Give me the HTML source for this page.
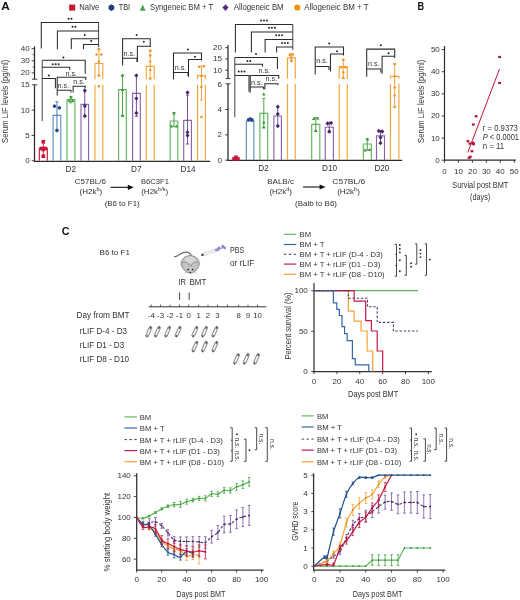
<!DOCTYPE html>
<html><head><meta charset="utf-8"><style>
html,body{margin:0;padding:0;background:#fff;}
svg{display:block;will-change:transform;}
text{font-family:"Liberation Sans",sans-serif;}
</style></head><body>
<svg width="520" height="600" viewBox="0 0 520 600">
<rect width="520" height="600" fill="#fff"/>
<text x="1.2" y="9.9" font-size="11" fill="#111" font-weight="bold" textLength="8.5" lengthAdjust="spacingAndGlyphs">A</text><text x="417.6" y="9.8" font-size="11" fill="#111" font-weight="bold" textLength="6.6" lengthAdjust="spacingAndGlyphs">B</text><text x="61.7" y="235" font-size="11" fill="#111" font-weight="bold" textLength="7.8" lengthAdjust="spacingAndGlyphs">C</text><rect x="69.2" y="4.6" width="6" height="6" fill="#c8163c" stroke="none" stroke-width="0"/><text x="79.2" y="10.4" font-size="8.3" fill="#333333" textLength="20.2" lengthAdjust="spacingAndGlyphs">Na&#239;ve</text><polygon points="114.26,9.25 111.4,10.9 108.54,9.25 108.54,5.95 111.4,4.3 114.26,5.95" fill="#1f3f7a" stroke="none" stroke-width="0"/><text x="118.7" y="10.4" font-size="8.3" fill="#333333" textLength="11.5" lengthAdjust="spacingAndGlyphs">TBI</text><polygon points="139.8,10.8 145.6,10.8 142.7,4.5" fill="#4ba14a" stroke="none" stroke-width="0"/><text x="150" y="10.4" font-size="8.3" fill="#333333" textLength="63.2" lengthAdjust="spacingAndGlyphs">Syngeneic BM + T</text><polygon points="225.5,4.3 228.6,7.6 225.5,10.9 222.4,7.6" fill="#5b2c83" stroke="none" stroke-width="0"/><text x="233.8" y="10.4" font-size="8.3" fill="#333333" textLength="49.8" lengthAdjust="spacingAndGlyphs">Allogeneic BM</text><circle cx="297.3" cy="7.5" r="3.1" fill="#f0930f" stroke="none" stroke-width="0"/><text x="304.3" y="10.4" font-size="8.3" fill="#333333" textLength="64.2" lengthAdjust="spacingAndGlyphs">Allogeneic BM + T</text><line x1="34.5" y1="46.3" x2="34.5" y2="79.2" stroke="#2b2b2b" stroke-width="1.25"/><line x1="34.5" y1="84.8" x2="34.5" y2="161.4" stroke="#2b2b2b" stroke-width="1.25"/><line x1="32" y1="79.2" x2="37.3" y2="79.2" stroke="#2b2b2b" stroke-width="0.9"/><line x1="32" y1="84.8" x2="37.3" y2="84.8" stroke="#2b2b2b" stroke-width="0.9"/><line x1="31.6" y1="48.7" x2="34.5" y2="48.7" stroke="#2b2b2b" stroke-width="0.9"/><line x1="31.6" y1="60.8" x2="34.5" y2="60.8" stroke="#2b2b2b" stroke-width="0.9"/><line x1="31.6" y1="72.9" x2="34.5" y2="72.9" stroke="#2b2b2b" stroke-width="0.9"/><line x1="32.6" y1="54.75" x2="34.5" y2="54.75" stroke="#2b2b2b" stroke-width="0.8"/><line x1="32.6" y1="66.85" x2="34.5" y2="66.85" stroke="#2b2b2b" stroke-width="0.8"/><line x1="31.6" y1="110.1" x2="34.5" y2="110.1" stroke="#2b2b2b" stroke-width="0.9"/><line x1="31.6" y1="135.45" x2="34.5" y2="135.45" stroke="#2b2b2b" stroke-width="0.9"/><line x1="31.6" y1="160.8" x2="34.5" y2="160.8" stroke="#2b2b2b" stroke-width="0.9"/><text x="29.6" y="51.2" font-size="8" fill="#333333" text-anchor="end">40</text><text x="29.6" y="63.3" font-size="8" fill="#333333" text-anchor="end">30</text><text x="29.6" y="75.4" font-size="8" fill="#333333" text-anchor="end">20</text><text x="29.6" y="87.25" font-size="8" fill="#333333" text-anchor="end">15</text><text x="29.6" y="112.6" font-size="8" fill="#333333" text-anchor="end">10</text><text x="29.6" y="137.95" font-size="8" fill="#333333" text-anchor="end">5</text><text x="29.6" y="163.3" font-size="8" fill="#333333" text-anchor="end">0</text><line x1="34" y1="161.3" x2="210.2" y2="161.3" stroke="#2b2b2b" stroke-width="1.3"/><text x="7.8" y="101.3" font-size="9.3" fill="#333333" text-anchor="middle" textLength="83.2" lengthAdjust="spacingAndGlyphs" transform="rotate(-90 7.8 101.3)">Serum LIF levels (pg/ml)</text><polyline points="39.3,160.8 39.3,148.2 47.3,148.2 47.3,160.8" fill="none" stroke="#c8163c" stroke-width="1.15" stroke-linejoin="miter"/><line x1="43.3" y1="141.8" x2="43.3" y2="156" stroke="#c8163c" stroke-width="0.9"/><line x1="41.7" y1="141.8" x2="44.9" y2="141.8" stroke="#c8163c" stroke-width="0.9"/><line x1="41.7" y1="156" x2="44.9" y2="156" stroke="#c8163c" stroke-width="0.9"/><rect x="41.5" y="140" width="3.6" height="3.6" fill="#c8163c" stroke="none" stroke-width="0"/><rect x="39.7" y="146.7" width="3.6" height="3.6" fill="#c8163c" stroke="none" stroke-width="0"/><rect x="43.4" y="146.7" width="3.6" height="3.6" fill="#c8163c" stroke="none" stroke-width="0"/><rect x="41.5" y="147.7" width="3.6" height="3.6" fill="#c8163c" stroke="none" stroke-width="0"/><rect x="41.5" y="154.4" width="3.6" height="3.6" fill="#c8163c" stroke="none" stroke-width="0"/><polyline points="53.1,160.8 53.1,115.3 60.8,115.3 60.8,160.8" fill="none" stroke="#5f8dc6" stroke-width="1.15" stroke-linejoin="miter"/><line x1="56.95" y1="101.8" x2="56.95" y2="129.8" stroke="#3d6aa6" stroke-width="0.9"/><line x1="55.35" y1="101.8" x2="58.55" y2="101.8" stroke="#3d6aa6" stroke-width="0.9"/><line x1="55.35" y1="129.8" x2="58.55" y2="129.8" stroke="#3d6aa6" stroke-width="0.9"/><polygon points="56.1,107.15 54.45,108.1 52.8,107.15 52.8,105.25 54.45,104.3 56.1,105.25" fill="#1f4a86" stroke="none" stroke-width="0"/><polygon points="61,108.75 59.35,109.7 57.7,108.75 57.7,106.85 59.35,105.9 61,106.85" fill="#1f4a86" stroke="none" stroke-width="0"/><polygon points="58.6,131.45 56.95,132.4 55.3,131.45 55.3,129.55 56.95,128.6 58.6,129.55" fill="#1f4a86" stroke="none" stroke-width="0"/><polyline points="67,160.8 67,99.5 74.9,99.5 74.9,160.8" fill="none" stroke="#5db65a" stroke-width="1.15" stroke-linejoin="miter"/><line x1="70.95" y1="96.6" x2="70.95" y2="102.8" stroke="#3f9a3c" stroke-width="0.9"/><line x1="69.35" y1="96.6" x2="72.55" y2="96.6" stroke="#3f9a3c" stroke-width="0.9"/><line x1="69.35" y1="102.8" x2="72.55" y2="102.8" stroke="#3f9a3c" stroke-width="0.9"/><polygon points="69.15,98.62 72.75,98.62 70.95,95.38" fill="#3f9a3c" stroke="none" stroke-width="0"/><polygon points="67.35,102.12 70.95,102.12 69.15,98.88" fill="#3f9a3c" stroke="none" stroke-width="0"/><polygon points="70.95,102.12 74.55,102.12 72.75,98.88" fill="#3f9a3c" stroke="none" stroke-width="0"/><polyline points="81,160.8 81,104.3 88.6,104.3 88.6,160.8" fill="none" stroke="#8a63ab" stroke-width="1.15" stroke-linejoin="miter"/><line x1="84.8" y1="90.5" x2="84.8" y2="116.6" stroke="#6a3f8c" stroke-width="0.9"/><line x1="83.2" y1="90.5" x2="86.4" y2="90.5" stroke="#6a3f8c" stroke-width="0.9"/><line x1="83.2" y1="116.6" x2="86.4" y2="116.6" stroke="#6a3f8c" stroke-width="0.9"/><polygon points="84.8,88.3 86.8,90.6 84.8,92.9 82.8,90.6" fill="#4a2468" stroke="none" stroke-width="0"/><polygon points="84.8,103.7 86.8,106 84.8,108.3 82.8,106" fill="#4a2468" stroke="none" stroke-width="0"/><polygon points="84.8,113.7 86.8,116 84.8,118.3 82.8,116" fill="#4a2468" stroke="none" stroke-width="0"/><polyline points="95,79.3 95,63.5 102.8,63.5 102.8,79.3" fill="none" stroke="#f4a53a" stroke-width="1.15" stroke-linejoin="miter"/><line x1="95" y1="84.7" x2="95" y2="160.8" stroke="#f4a53a" stroke-width="1.15"/><line x1="102.8" y1="84.7" x2="102.8" y2="160.8" stroke="#f4a53a" stroke-width="1.15"/><line x1="98.9" y1="49.2" x2="98.9" y2="75.8" stroke="#ee9630" stroke-width="0.9"/><line x1="97.3" y1="49.2" x2="100.5" y2="49.2" stroke="#ee9630" stroke-width="0.9"/><line x1="97.3" y1="75.8" x2="100.5" y2="75.8" stroke="#ee9630" stroke-width="0.9"/><circle cx="98.9" cy="49.2" r="1.3" fill="#ee9630" stroke="none" stroke-width="0"/><circle cx="96.6" cy="54.5" r="1.3" fill="#ee9630" stroke="none" stroke-width="0"/><circle cx="101.3" cy="54.5" r="1.3" fill="#ee9630" stroke="none" stroke-width="0"/><circle cx="98.9" cy="61.5" r="1.3" fill="#ee9630" stroke="none" stroke-width="0"/><circle cx="98.9" cy="75.5" r="1.3" fill="#ee9630" stroke="none" stroke-width="0"/><circle cx="98.9" cy="86.3" r="1.3" fill="#ee9630" stroke="none" stroke-width="0"/><polyline points="118.6,160.8 118.6,89.6 126.3,89.6 126.3,160.8" fill="none" stroke="#5db65a" stroke-width="1.15" stroke-linejoin="miter"/><line x1="122.5" y1="75.2" x2="122.5" y2="115.3" stroke="#3f9a3c" stroke-width="0.9"/><line x1="120.9" y1="75.2" x2="124.1" y2="75.2" stroke="#3f9a3c" stroke-width="0.9"/><line x1="120.9" y1="115.3" x2="124.1" y2="115.3" stroke="#3f9a3c" stroke-width="0.9"/><polygon points="120.7,76.82 124.3,76.82 122.5,73.58" fill="#3f9a3c" stroke="none" stroke-width="0"/><polygon points="120.7,91.12 124.3,91.12 122.5,87.88" fill="#3f9a3c" stroke="none" stroke-width="0"/><polygon points="120.7,116.92 124.3,116.92 122.5,113.68" fill="#3f9a3c" stroke="none" stroke-width="0"/><polyline points="132.6,160.8 132.6,93.4 140.3,93.4 140.3,160.8" fill="none" stroke="#8a63ab" stroke-width="1.15" stroke-linejoin="miter"/><line x1="136.4" y1="75.5" x2="136.4" y2="116.3" stroke="#6a3f8c" stroke-width="0.9"/><line x1="134.8" y1="75.5" x2="138" y2="75.5" stroke="#6a3f8c" stroke-width="0.9"/><line x1="134.8" y1="116.3" x2="138" y2="116.3" stroke="#6a3f8c" stroke-width="0.9"/><polygon points="136.4,73.2 138.4,75.5 136.4,77.8 134.4,75.5" fill="#4a2468" stroke="none" stroke-width="0"/><polygon points="136.4,96.2 138.4,98.5 136.4,100.8 134.4,98.5" fill="#4a2468" stroke="none" stroke-width="0"/><polygon points="136.4,110.7 138.4,113 136.4,115.3 134.4,113" fill="#4a2468" stroke="none" stroke-width="0"/><polyline points="146.3,79.3 146.3,66.3 154.2,66.3 154.2,79.3" fill="none" stroke="#f4a53a" stroke-width="1.15" stroke-linejoin="miter"/><line x1="146.3" y1="84.7" x2="146.3" y2="160.8" stroke="#f4a53a" stroke-width="1.15"/><line x1="154.2" y1="84.7" x2="154.2" y2="160.8" stroke="#f4a53a" stroke-width="1.15"/><line x1="150.2" y1="50.6" x2="150.2" y2="78.8" stroke="#ee9630" stroke-width="0.9"/><line x1="148.6" y1="50.6" x2="151.8" y2="50.6" stroke="#ee9630" stroke-width="0.9"/><line x1="148.6" y1="78.8" x2="151.8" y2="78.8" stroke="#ee9630" stroke-width="0.9"/><circle cx="150.2" cy="50.8" r="1.3" fill="#ee9630" stroke="none" stroke-width="0"/><circle cx="150.2" cy="55.5" r="1.3" fill="#ee9630" stroke="none" stroke-width="0"/><circle cx="150.2" cy="61.5" r="1.3" fill="#ee9630" stroke="none" stroke-width="0"/><circle cx="150.2" cy="70" r="1.3" fill="#ee9630" stroke="none" stroke-width="0"/><circle cx="150.2" cy="78.5" r="1.3" fill="#ee9630" stroke="none" stroke-width="0"/><polyline points="170.2,160.8 170.2,121 177.8,121 177.8,160.8" fill="none" stroke="#5db65a" stroke-width="1.15" stroke-linejoin="miter"/><line x1="173.95" y1="112.5" x2="173.95" y2="126.4" stroke="#3f9a3c" stroke-width="0.9"/><line x1="172.35" y1="112.5" x2="175.55" y2="112.5" stroke="#3f9a3c" stroke-width="0.9"/><line x1="172.35" y1="126.4" x2="175.55" y2="126.4" stroke="#3f9a3c" stroke-width="0.9"/><polygon points="172.15,114.62 175.75,114.62 173.95,111.38" fill="#3f9a3c" stroke="none" stroke-width="0"/><polygon points="169.75,127.62 173.35,127.62 171.55,124.38" fill="#3f9a3c" stroke="none" stroke-width="0"/><polygon points="174.55,127.62 178.15,127.62 176.35,124.38" fill="#3f9a3c" stroke="none" stroke-width="0"/><polyline points="183.7,160.8 183.7,120.3 191.4,120.3 191.4,160.8" fill="none" stroke="#8a63ab" stroke-width="1.15" stroke-linejoin="miter"/><line x1="187.5" y1="95.2" x2="187.5" y2="144" stroke="#6a3f8c" stroke-width="0.9"/><line x1="185.9" y1="95.2" x2="189.1" y2="95.2" stroke="#6a3f8c" stroke-width="0.9"/><line x1="185.9" y1="144" x2="189.1" y2="144" stroke="#6a3f8c" stroke-width="0.9"/><polygon points="187.5,90.3 189.5,92.6 187.5,94.9 185.5,92.6" fill="#4a2468" stroke="none" stroke-width="0"/><polygon points="187.5,130 189.5,132.3 187.5,134.6 185.5,132.3" fill="#4a2468" stroke="none" stroke-width="0"/><polygon points="187.5,133.2 189.5,135.5 187.5,137.8 185.5,135.5" fill="#4a2468" stroke="none" stroke-width="0"/><polyline points="197.6,79.3 197.6,75.6 205.4,75.6 205.4,79.3" fill="none" stroke="#f4a53a" stroke-width="1.15" stroke-linejoin="miter"/><line x1="197.6" y1="84.7" x2="197.6" y2="160.8" stroke="#f4a53a" stroke-width="1.15"/><line x1="205.4" y1="84.7" x2="205.4" y2="160.8" stroke="#f4a53a" stroke-width="1.15"/><line x1="201.45" y1="66.2" x2="201.45" y2="100" stroke="#ee9630" stroke-width="0.9"/><line x1="199.85" y1="66.2" x2="203.05" y2="66.2" stroke="#ee9630" stroke-width="0.9"/><line x1="199.85" y1="100" x2="203.05" y2="100" stroke="#ee9630" stroke-width="0.9"/><circle cx="199.05" cy="66.8" r="1.3" fill="#ee9630" stroke="none" stroke-width="0"/><circle cx="203.85" cy="66.3" r="1.3" fill="#ee9630" stroke="none" stroke-width="0"/><circle cx="201.45" cy="76" r="1.3" fill="#ee9630" stroke="none" stroke-width="0"/><circle cx="201.45" cy="87" r="1.3" fill="#ee9630" stroke="none" stroke-width="0"/><circle cx="201.45" cy="117" r="1.3" fill="#ee9630" stroke="none" stroke-width="0"/><polyline points="41.3,48.5 41.3,22.4 98.6,22.4" fill="none" stroke="#2b2b2b" stroke-width="1.05" stroke-linejoin="miter"/><polyline points="57.4,49.3 57.4,30.9 98.6,30.9" fill="none" stroke="#2b2b2b" stroke-width="1.05" stroke-linejoin="miter"/><polyline points="71.3,49 71.3,38.7 98.6,38.7" fill="none" stroke="#2b2b2b" stroke-width="1.05" stroke-linejoin="miter"/><polyline points="83.5,49.3 83.5,44.4 98.6,44.4" fill="none" stroke="#2b2b2b" stroke-width="1.05" stroke-linejoin="miter"/><line x1="98.6" y1="22.4" x2="98.6" y2="47.2" stroke="#2b2b2b" stroke-width="0.9"/><circle cx="68.55" cy="18.8" r="1" fill="#262626" stroke="none" stroke-width="0"/><circle cx="71.45" cy="18.8" r="1" fill="#262626" stroke="none" stroke-width="0"/><circle cx="72.55" cy="26.8" r="1" fill="#262626" stroke="none" stroke-width="0"/><circle cx="75.45" cy="26.8" r="1" fill="#262626" stroke="none" stroke-width="0"/><circle cx="84.7" cy="35" r="1" fill="#262626" stroke="none" stroke-width="0"/><circle cx="91.2" cy="41" r="1" fill="#262626" stroke="none" stroke-width="0"/><line x1="42.2" y1="60.2" x2="42.2" y2="121" stroke="#2b2b2b" stroke-width="0.9"/><polyline points="42.2,60.2 85.2,60.2 85.2,73.7" fill="none" stroke="#2b2b2b" stroke-width="1.05" stroke-linejoin="miter"/><polyline points="42.2,67.3 69.7,67.3 69.7,70" fill="none" stroke="#2b2b2b" stroke-width="1.05" stroke-linejoin="miter"/><polyline points="42.2,78.4 55.4,78.4 55.4,88.2" fill="none" stroke="#2b2b2b" stroke-width="1.05" stroke-linejoin="miter"/><circle cx="63.4" cy="57.4" r="1" fill="#262626" stroke="none" stroke-width="0"/><circle cx="52.8" cy="64.3" r="1" fill="#262626" stroke="none" stroke-width="0"/><circle cx="55.7" cy="64.3" r="1" fill="#262626" stroke="none" stroke-width="0"/><circle cx="58.6" cy="64.3" r="1" fill="#262626" stroke="none" stroke-width="0"/><circle cx="48.9" cy="75.6" r="1" fill="#262626" stroke="none" stroke-width="0"/><polyline points="57.2,95.5 57.2,77.3 85.8,77.3 85.8,80" fill="none" stroke="#2b2b2b" stroke-width="1.05" stroke-linejoin="miter"/><text x="71.2" y="75.87" font-size="7.2" fill="#333333" text-anchor="middle">n.s.</text><polyline points="57.2,90.3 71,90.3 71,92.4" fill="none" stroke="#2b2b2b" stroke-width="1.05" stroke-linejoin="miter"/><text x="63.4" y="87.87" font-size="7.2" fill="#333333" text-anchor="middle">n.s.</text><polyline points="73.1,92.4 73.1,86.2 85.2,86.2 85.2,88.2" fill="none" stroke="#2b2b2b" stroke-width="1.05" stroke-linejoin="miter"/><text x="79" y="84.47" font-size="7.2" fill="#333333" text-anchor="middle">n.s.</text><polyline points="122.6,65.6 122.6,38.8 150.3,38.8 150.3,47" fill="none" stroke="#2b2b2b" stroke-width="1.05" stroke-linejoin="miter"/><circle cx="136.6" cy="35" r="1" fill="#262626" stroke="none" stroke-width="0"/><polyline points="137.4,62.1 137.4,46.3 150.3,46.3" fill="none" stroke="#2b2b2b" stroke-width="1.05" stroke-linejoin="miter"/><circle cx="143.8" cy="41.7" r="1" fill="#262626" stroke="none" stroke-width="0"/><polyline points="122.6,58.2 137,58.2 137,62" fill="none" stroke="#2b2b2b" stroke-width="1.05" stroke-linejoin="miter"/><text x="129.3" y="55.87" font-size="7.2" fill="#333333" text-anchor="middle">n.s.</text><polyline points="173.5,79.5 173.5,53 201.5,53 201.5,60.5" fill="none" stroke="#2b2b2b" stroke-width="1.05" stroke-linejoin="miter"/><circle cx="187.8" cy="49.6" r="1" fill="#262626" stroke="none" stroke-width="0"/><polyline points="188.5,77 188.5,59.5 201.5,59.5" fill="none" stroke="#2b2b2b" stroke-width="1.05" stroke-linejoin="miter"/><circle cx="195" cy="56.8" r="1" fill="#262626" stroke="none" stroke-width="0"/><polyline points="173.5,72.5 188,72.5 188,76" fill="none" stroke="#2b2b2b" stroke-width="1.05" stroke-linejoin="miter"/><text x="180.5" y="70.07" font-size="7.2" fill="#333333" text-anchor="middle">n.s.</text><text x="70.8" y="172.05" font-size="8.2" fill="#333333" text-anchor="middle">D2</text><text x="136.3" y="171.85" font-size="8.2" fill="#333333" text-anchor="middle">D7</text><text x="188" y="171.85" font-size="8.2" fill="#333333" text-anchor="middle">D14</text><text x="90.4" y="184.28" font-size="8" fill="#333333" text-anchor="middle" textLength="31.1" lengthAdjust="spacingAndGlyphs">C57BL/6</text><text x="79.5" y="194.2" font-size="8" fill="#333333">(H2k<tspan font-size="5.5" dy="-3">b</tspan><tspan dy="3">)</tspan></text><text x="155" y="184.28" font-size="8" fill="#333333" text-anchor="middle" textLength="28" lengthAdjust="spacingAndGlyphs">B6C3F1</text><text x="141.2" y="194.2" font-size="8" fill="#333333">(H2k<tspan font-size="5.5" dy="-3">b/k</tspan><tspan dy="3">)</tspan></text><text x="122.2" y="206.48" font-size="8" fill="#333333" text-anchor="middle" textLength="35" lengthAdjust="spacingAndGlyphs">(B6 to F1)</text><line x1="110.6" y1="187.3" x2="129.8" y2="187.3" stroke="#111" stroke-width="1.1"/><polygon points="133.8,187.3 127.8,184.7 127.8,189.9" fill="#111" stroke="none" stroke-width="0"/><line x1="228" y1="45.2" x2="228" y2="78.6" stroke="#2b2b2b" stroke-width="1.25"/><line x1="228" y1="83.8" x2="228" y2="160.6" stroke="#2b2b2b" stroke-width="1.25"/><line x1="225.6" y1="78.6" x2="230.6" y2="78.6" stroke="#2b2b2b" stroke-width="0.9"/><line x1="225.6" y1="83.8" x2="230.6" y2="83.8" stroke="#2b2b2b" stroke-width="0.9"/><line x1="225.2" y1="47.7" x2="228" y2="47.7" stroke="#2b2b2b" stroke-width="0.9"/><line x1="225.2" y1="58.95" x2="228" y2="58.95" stroke="#2b2b2b" stroke-width="0.9"/><line x1="225.2" y1="70.2" x2="228" y2="70.2" stroke="#2b2b2b" stroke-width="0.9"/><line x1="225.2" y1="109.48" x2="228" y2="109.48" stroke="#2b2b2b" stroke-width="0.9"/><line x1="225.2" y1="134.84" x2="228" y2="134.84" stroke="#2b2b2b" stroke-width="0.9"/><line x1="225.2" y1="160.2" x2="228" y2="160.2" stroke="#2b2b2b" stroke-width="0.9"/><text x="222" y="50.2" font-size="8" fill="#333333" text-anchor="end">20</text><text x="222" y="61.45" font-size="8" fill="#333333" text-anchor="end">15</text><text x="222" y="72.7" font-size="8" fill="#333333" text-anchor="end">10</text><text x="222" y="86.62" font-size="8" fill="#333333" text-anchor="end">6</text><text x="222" y="111.98" font-size="8" fill="#333333" text-anchor="end">4</text><text x="222" y="137.34" font-size="8" fill="#333333" text-anchor="end">2</text><text x="222" y="162.7" font-size="8" fill="#333333" text-anchor="end">0</text><line x1="227.5" y1="160.3" x2="402.2" y2="160.3" stroke="#2b2b2b" stroke-width="1.3"/><rect x="232.4" y="158.4" width="7" height="1.8" fill="#c8163c" stroke="none" stroke-width="0"/><rect x="232.4" y="156.8" width="3.6" height="3.6" fill="#c8163c" stroke="none" stroke-width="0"/><rect x="234.2" y="155.5" width="3.6" height="3.6" fill="#c8163c" stroke="none" stroke-width="0"/><rect x="236" y="157" width="3.6" height="3.6" fill="#c8163c" stroke="none" stroke-width="0"/><polyline points="246.3,160 246.3,121 253.9,121 253.9,160" fill="none" stroke="#5f8dc6" stroke-width="1.15" stroke-linejoin="miter"/><polygon points="250.15,120.75 248.5,121.7 246.85,120.75 246.85,118.85 248.5,117.9 250.15,118.85" fill="#1f4a86" stroke="none" stroke-width="0"/><polygon points="251.95,119.95 250.3,120.9 248.65,119.95 248.65,118.05 250.3,117.1 251.95,118.05" fill="#1f4a86" stroke="none" stroke-width="0"/><polygon points="253.75,120.95 252.1,121.9 250.45,120.95 250.45,119.05 252.1,118.1 253.75,119.05" fill="#1f4a86" stroke="none" stroke-width="0"/><polyline points="259.9,160 259.9,113.3 267.7,113.3 267.7,160" fill="none" stroke="#5db65a" stroke-width="1.15" stroke-linejoin="miter"/><line x1="263.8" y1="98.4" x2="263.8" y2="127.3" stroke="#3f9a3c" stroke-width="0.9"/><line x1="262.2" y1="98.4" x2="265.4" y2="98.4" stroke="#3f9a3c" stroke-width="0.9"/><line x1="262.2" y1="127.3" x2="265.4" y2="127.3" stroke="#3f9a3c" stroke-width="0.9"/><polygon points="262,95.42 265.6,95.42 263.8,92.18" fill="#3f9a3c" stroke="none" stroke-width="0"/><polygon points="262,123.82 265.6,123.82 263.8,120.58" fill="#3f9a3c" stroke="none" stroke-width="0"/><polygon points="262,128.62 265.6,128.62 263.8,125.38" fill="#3f9a3c" stroke="none" stroke-width="0"/><polyline points="273.9,160 273.9,116 281.4,116 281.4,160" fill="none" stroke="#8a63ab" stroke-width="1.15" stroke-linejoin="miter"/><line x1="277.75" y1="106.6" x2="277.75" y2="126" stroke="#6a3f8c" stroke-width="0.9"/><line x1="276.15" y1="106.6" x2="279.35" y2="106.6" stroke="#6a3f8c" stroke-width="0.9"/><line x1="276.15" y1="126" x2="279.35" y2="126" stroke="#6a3f8c" stroke-width="0.9"/><polygon points="277.75,104.5 279.75,106.8 277.75,109.1 275.75,106.8" fill="#4a2468" stroke="none" stroke-width="0"/><polygon points="277.75,111.7 279.75,114 277.75,116.3 275.75,114" fill="#4a2468" stroke="none" stroke-width="0"/><polygon points="277.75,123.7 279.75,126 277.75,128.3 275.75,126" fill="#4a2468" stroke="none" stroke-width="0"/><polyline points="287.5,78.8 287.5,57.8 295.3,57.8 295.3,78.8" fill="none" stroke="#f4a53a" stroke-width="1.15" stroke-linejoin="miter"/><line x1="287.5" y1="83.8" x2="287.5" y2="160" stroke="#f4a53a" stroke-width="1.15"/><line x1="295.3" y1="83.8" x2="295.3" y2="160" stroke="#f4a53a" stroke-width="1.15"/><line x1="291.4" y1="53.6" x2="291.4" y2="61.6" stroke="#ee9630" stroke-width="0.9"/><line x1="289.8" y1="53.6" x2="293" y2="53.6" stroke="#ee9630" stroke-width="0.9"/><line x1="289.8" y1="61.6" x2="293" y2="61.6" stroke="#ee9630" stroke-width="0.9"/><circle cx="289.8" cy="55" r="1.3" fill="#ee9630" stroke="none" stroke-width="0"/><circle cx="292.8" cy="54.5" r="1.3" fill="#ee9630" stroke="none" stroke-width="0"/><circle cx="291.4" cy="57.5" r="1.3" fill="#ee9630" stroke="none" stroke-width="0"/><circle cx="291.4" cy="60.5" r="1.3" fill="#ee9630" stroke="none" stroke-width="0"/><polyline points="311.7,160 311.7,124.3 319.8,124.3 319.8,160" fill="none" stroke="#5db65a" stroke-width="1.15" stroke-linejoin="miter"/><line x1="315.75" y1="117.6" x2="315.75" y2="131" stroke="#3f9a3c" stroke-width="0.9"/><line x1="314.15" y1="117.6" x2="317.35" y2="117.6" stroke="#3f9a3c" stroke-width="0.9"/><line x1="314.15" y1="131" x2="317.35" y2="131" stroke="#3f9a3c" stroke-width="0.9"/><polygon points="311.95,119.92 315.55,119.92 313.75,116.68" fill="#3f9a3c" stroke="none" stroke-width="0"/><polygon points="315.95,119.62 319.55,119.62 317.75,116.38" fill="#3f9a3c" stroke="none" stroke-width="0"/><polygon points="313.95,132.12 317.55,132.12 315.75,128.88" fill="#3f9a3c" stroke="none" stroke-width="0"/><polyline points="325.2,160 325.2,127.2 333.4,127.2 333.4,160" fill="none" stroke="#8a63ab" stroke-width="1.15" stroke-linejoin="miter"/><line x1="329.25" y1="122.3" x2="329.25" y2="132.3" stroke="#6a3f8c" stroke-width="0.9"/><line x1="327.65" y1="122.3" x2="330.85" y2="122.3" stroke="#6a3f8c" stroke-width="0.9"/><line x1="327.65" y1="132.3" x2="330.85" y2="132.3" stroke="#6a3f8c" stroke-width="0.9"/><polygon points="327.45,121.2 329.45,123.5 327.45,125.8 325.45,123.5" fill="#4a2468" stroke="none" stroke-width="0"/><polygon points="331.15,120.7 333.15,123 331.15,125.3 329.15,123" fill="#4a2468" stroke="none" stroke-width="0"/><polygon points="329.25,129.2 331.25,131.5 329.25,133.8 327.25,131.5" fill="#4a2468" stroke="none" stroke-width="0"/><polyline points="339.2,78.8 339.2,66.6 347.3,66.6 347.3,78.8" fill="none" stroke="#f4a53a" stroke-width="1.15" stroke-linejoin="miter"/><line x1="339.2" y1="83.8" x2="339.2" y2="160" stroke="#f4a53a" stroke-width="1.15"/><line x1="347.3" y1="83.8" x2="347.3" y2="160" stroke="#f4a53a" stroke-width="1.15"/><line x1="343.3" y1="59.6" x2="343.3" y2="78.3" stroke="#ee9630" stroke-width="0.9"/><line x1="341.7" y1="59.6" x2="344.9" y2="59.6" stroke="#ee9630" stroke-width="0.9"/><line x1="341.7" y1="78.3" x2="344.9" y2="78.3" stroke="#ee9630" stroke-width="0.9"/><circle cx="343.3" cy="59.8" r="1.3" fill="#ee9630" stroke="none" stroke-width="0"/><circle cx="341.3" cy="67.5" r="1.3" fill="#ee9630" stroke="none" stroke-width="0"/><circle cx="345.3" cy="67.5" r="1.3" fill="#ee9630" stroke="none" stroke-width="0"/><circle cx="343.3" cy="72.5" r="1.3" fill="#ee9630" stroke="none" stroke-width="0"/><circle cx="343.3" cy="78" r="1.3" fill="#ee9630" stroke="none" stroke-width="0"/><polyline points="363.3,160 363.3,144 371.3,144 371.3,160" fill="none" stroke="#5db65a" stroke-width="1.15" stroke-linejoin="miter"/><line x1="367.3" y1="138.8" x2="367.3" y2="150.2" stroke="#3f9a3c" stroke-width="0.9"/><line x1="365.7" y1="138.8" x2="368.9" y2="138.8" stroke="#3f9a3c" stroke-width="0.9"/><line x1="365.7" y1="150.2" x2="368.9" y2="150.2" stroke="#3f9a3c" stroke-width="0.9"/><polygon points="365.5,140.62 369.1,140.62 367.3,137.38" fill="#3f9a3c" stroke="none" stroke-width="0"/><polygon points="363.3,151.42 366.9,151.42 365.1,148.18" fill="#3f9a3c" stroke="none" stroke-width="0"/><polygon points="367.7,151.12 371.3,151.12 369.5,147.88" fill="#3f9a3c" stroke="none" stroke-width="0"/><polyline points="376.5,160 376.5,135.9 384.5,135.9 384.5,160" fill="none" stroke="#8a63ab" stroke-width="1.15" stroke-linejoin="miter"/><line x1="380.5" y1="130.5" x2="380.5" y2="143.5" stroke="#6a3f8c" stroke-width="0.9"/><line x1="378.9" y1="130.5" x2="382.1" y2="130.5" stroke="#6a3f8c" stroke-width="0.9"/><line x1="378.9" y1="143.5" x2="382.1" y2="143.5" stroke="#6a3f8c" stroke-width="0.9"/><polygon points="378.8,128.7 380.8,131 378.8,133.3 376.8,131" fill="#4a2468" stroke="none" stroke-width="0"/><polygon points="382.3,129.2 384.3,131.5 382.3,133.8 380.3,131.5" fill="#4a2468" stroke="none" stroke-width="0"/><polygon points="380.5,135.2 382.5,137.5 380.5,139.8 378.5,137.5" fill="#4a2468" stroke="none" stroke-width="0"/><polygon points="380.5,140.7 382.5,143 380.5,145.3 378.5,143" fill="#4a2468" stroke="none" stroke-width="0"/><polyline points="390.4,78.8 390.4,76.3 398.9,76.3 398.9,78.8" fill="none" stroke="#f4a53a" stroke-width="1.15" stroke-linejoin="miter"/><line x1="390.4" y1="83.8" x2="390.4" y2="160" stroke="#f4a53a" stroke-width="1.15"/><line x1="398.9" y1="83.8" x2="398.9" y2="160" stroke="#f4a53a" stroke-width="1.15"/><line x1="394.65" y1="63.9" x2="394.65" y2="107" stroke="#ee9630" stroke-width="0.9"/><line x1="393.05" y1="63.9" x2="396.25" y2="63.9" stroke="#ee9630" stroke-width="0.9"/><line x1="393.05" y1="107" x2="396.25" y2="107" stroke="#ee9630" stroke-width="0.9"/><circle cx="394.65" cy="64" r="1.3" fill="#ee9630" stroke="none" stroke-width="0"/><circle cx="394.65" cy="76.3" r="1.3" fill="#ee9630" stroke="none" stroke-width="0"/><circle cx="394.65" cy="87.5" r="1.3" fill="#ee9630" stroke="none" stroke-width="0"/><circle cx="394.65" cy="95.5" r="1.3" fill="#ee9630" stroke="none" stroke-width="0"/><circle cx="394.65" cy="107" r="1.3" fill="#ee9630" stroke="none" stroke-width="0"/><polyline points="235.4,52.5 235.4,24.4 292.8,24.4" fill="none" stroke="#2b2b2b" stroke-width="1.05" stroke-linejoin="miter"/><polyline points="251.4,52.5 251.4,31.9 292.8,31.9" fill="none" stroke="#2b2b2b" stroke-width="1.05" stroke-linejoin="miter"/><polyline points="265.1,52.5 265.1,39.5 292.8,39.5" fill="none" stroke="#2b2b2b" stroke-width="1.05" stroke-linejoin="miter"/><polyline points="276.6,52.5 276.6,47 292.8,47" fill="none" stroke="#2b2b2b" stroke-width="1.05" stroke-linejoin="miter"/><line x1="292.8" y1="24.4" x2="292.8" y2="50" stroke="#2b2b2b" stroke-width="0.9"/><circle cx="261.1" cy="20.5" r="1" fill="#262626" stroke="none" stroke-width="0"/><circle cx="264" cy="20.5" r="1" fill="#262626" stroke="none" stroke-width="0"/><circle cx="266.9" cy="20.5" r="1" fill="#262626" stroke="none" stroke-width="0"/><circle cx="269" cy="27.7" r="1" fill="#262626" stroke="none" stroke-width="0"/><circle cx="271.9" cy="27.7" r="1" fill="#262626" stroke="none" stroke-width="0"/><circle cx="274.8" cy="27.7" r="1" fill="#262626" stroke="none" stroke-width="0"/><circle cx="276.2" cy="35.2" r="1" fill="#262626" stroke="none" stroke-width="0"/><circle cx="279.1" cy="35.2" r="1" fill="#262626" stroke="none" stroke-width="0"/><circle cx="282" cy="35.2" r="1" fill="#262626" stroke="none" stroke-width="0"/><circle cx="282" cy="43" r="1" fill="#262626" stroke="none" stroke-width="0"/><circle cx="284.9" cy="43" r="1" fill="#262626" stroke="none" stroke-width="0"/><circle cx="287.8" cy="43" r="1" fill="#262626" stroke="none" stroke-width="0"/><line x1="234.8" y1="57.5" x2="234.8" y2="117.2" stroke="#2b2b2b" stroke-width="0.9"/><polyline points="234.8,57.5 277.4,57.5 277.4,69" fill="none" stroke="#2b2b2b" stroke-width="1.05" stroke-linejoin="miter"/><circle cx="256" cy="53.9" r="1" fill="#262626" stroke="none" stroke-width="0"/><polyline points="234.8,64.3 262.5,64.3 262.5,66.4" fill="none" stroke="#2b2b2b" stroke-width="1.05" stroke-linejoin="miter"/><circle cx="247.35" cy="61" r="1" fill="#262626" stroke="none" stroke-width="0"/><circle cx="250.25" cy="61" r="1" fill="#262626" stroke="none" stroke-width="0"/><polyline points="234.8,75.5 249,75.5 249,91.8" fill="none" stroke="#2b2b2b" stroke-width="1.05" stroke-linejoin="miter"/><circle cx="238.7" cy="71.4" r="1" fill="#262626" stroke="none" stroke-width="0"/><circle cx="241.6" cy="71.4" r="1" fill="#262626" stroke="none" stroke-width="0"/><circle cx="244.5" cy="71.4" r="1" fill="#262626" stroke="none" stroke-width="0"/><polyline points="250.2,92.7 250.2,75.5 278.8,75.5 278.8,78.8" fill="none" stroke="#2b2b2b" stroke-width="1.05" stroke-linejoin="miter"/><text x="264.2" y="72.87" font-size="7.2" fill="#333333" text-anchor="middle">n.s.</text><polyline points="250.2,87 263.7,87 263.7,89.4" fill="none" stroke="#2b2b2b" stroke-width="1.05" stroke-linejoin="miter"/><text x="256.8" y="84.67" font-size="7.2" fill="#333333" text-anchor="middle">n.s.</text><polyline points="264.9,89.4 264.9,83.7 277.9,83.7 277.9,85.3" fill="none" stroke="#2b2b2b" stroke-width="1.05" stroke-linejoin="miter"/><text x="271.4" y="81.17" font-size="7.2" fill="#333333" text-anchor="middle">n.s.</text><polyline points="315.2,74.5 315.2,47 343.5,47 343.5,55.5" fill="none" stroke="#2b2b2b" stroke-width="1.05" stroke-linejoin="miter"/><circle cx="329.2" cy="43.5" r="1" fill="#262626" stroke="none" stroke-width="0"/><polyline points="330.5,71.5 330.5,54 343.5,54" fill="none" stroke="#2b2b2b" stroke-width="1.05" stroke-linejoin="miter"/><circle cx="337" cy="51.3" r="1" fill="#262626" stroke="none" stroke-width="0"/><polyline points="315.2,66.5 329,66.5 329,70" fill="none" stroke="#2b2b2b" stroke-width="1.05" stroke-linejoin="miter"/><text x="322" y="63.47" font-size="7.2" fill="#333333" text-anchor="middle">n.s.</text><polyline points="366.7,76.8 366.7,49.1 394.7,49.1 394.7,58.1" fill="none" stroke="#2b2b2b" stroke-width="1.05" stroke-linejoin="miter"/><circle cx="380.9" cy="45.3" r="1" fill="#262626" stroke="none" stroke-width="0"/><polyline points="382.1,73.8 382.1,56.3 394.7,56.3" fill="none" stroke="#2b2b2b" stroke-width="1.05" stroke-linejoin="miter"/><circle cx="388.6" cy="53.2" r="1" fill="#262626" stroke="none" stroke-width="0"/><polyline points="366.7,68.9 380.9,68.9 380.9,72.5" fill="none" stroke="#2b2b2b" stroke-width="1.05" stroke-linejoin="miter"/><text x="373.7" y="66.27" font-size="7.2" fill="#333333" text-anchor="middle">n.s.</text><text x="263.6" y="170.95" font-size="8.2" fill="#333333" text-anchor="middle">D2</text><text x="329.5" y="170.65" font-size="8.2" fill="#333333" text-anchor="middle">D10</text><text x="381.9" y="170.65" font-size="8.2" fill="#333333" text-anchor="middle">D20</text><text x="280.6" y="184.28" font-size="8" fill="#333333" text-anchor="middle" textLength="26.8" lengthAdjust="spacingAndGlyphs">BALB/c</text><text x="269.4" y="194.2" font-size="8" fill="#333333">(H2k<tspan font-size="5.5" dy="-3">d</tspan><tspan dy="3">)</tspan></text><line x1="303" y1="187" x2="321.6" y2="187" stroke="#111" stroke-width="1.1"/><polygon points="325.6,187 319.6,184.4 319.6,189.6" fill="#111" stroke="none" stroke-width="0"/><text x="348.8" y="184.28" font-size="8" fill="#333333" text-anchor="middle" textLength="33" lengthAdjust="spacingAndGlyphs">C57BL/6</text><text x="337.2" y="194.2" font-size="8" fill="#333333">(H2k<tspan font-size="5.5" dy="-3">b</tspan><tspan dy="3">)</tspan></text><text x="316" y="206.48" font-size="8" fill="#333333" text-anchor="middle" textLength="42" lengthAdjust="spacingAndGlyphs">(Balb to B6)</text><line x1="444.5" y1="46" x2="444.5" y2="160.7" stroke="#2b2b2b" stroke-width="1.2"/><line x1="444" y1="160.2" x2="515.8" y2="160.2" stroke="#2b2b2b" stroke-width="1.25"/><line x1="441.7" y1="160.2" x2="444.5" y2="160.2" stroke="#2b2b2b" stroke-width="0.9"/><text x="439.8" y="162.7" font-size="8" fill="#333333" text-anchor="end">0</text><line x1="441.7" y1="138.08" x2="444.5" y2="138.08" stroke="#2b2b2b" stroke-width="0.9"/><text x="439.8" y="140.58" font-size="8" fill="#333333" text-anchor="end">10</text><line x1="441.7" y1="115.96" x2="444.5" y2="115.96" stroke="#2b2b2b" stroke-width="0.9"/><text x="439.8" y="118.46" font-size="8" fill="#333333" text-anchor="end">20</text><line x1="441.7" y1="93.84" x2="444.5" y2="93.84" stroke="#2b2b2b" stroke-width="0.9"/><text x="439.8" y="96.34" font-size="8" fill="#333333" text-anchor="end">30</text><line x1="441.7" y1="71.72" x2="444.5" y2="71.72" stroke="#2b2b2b" stroke-width="0.9"/><text x="439.8" y="74.22" font-size="8" fill="#333333" text-anchor="end">40</text><line x1="441.7" y1="49.6" x2="444.5" y2="49.6" stroke="#2b2b2b" stroke-width="0.9"/><text x="439.8" y="52.1" font-size="8" fill="#333333" text-anchor="end">50</text><line x1="444.5" y1="160.2" x2="444.5" y2="162.8" stroke="#2b2b2b" stroke-width="0.9"/><text x="444.5" y="173.68" font-size="8" fill="#333333" text-anchor="middle">0</text><line x1="458.45" y1="160.2" x2="458.45" y2="162.8" stroke="#2b2b2b" stroke-width="0.9"/><text x="458.45" y="173.68" font-size="8" fill="#333333" text-anchor="middle">10</text><line x1="472.4" y1="160.2" x2="472.4" y2="162.8" stroke="#2b2b2b" stroke-width="0.9"/><text x="472.4" y="173.68" font-size="8" fill="#333333" text-anchor="middle">20</text><line x1="486.35" y1="160.2" x2="486.35" y2="162.8" stroke="#2b2b2b" stroke-width="0.9"/><text x="486.35" y="173.68" font-size="8" fill="#333333" text-anchor="middle">30</text><line x1="500.3" y1="160.2" x2="500.3" y2="162.8" stroke="#2b2b2b" stroke-width="0.9"/><text x="500.3" y="173.68" font-size="8" fill="#333333" text-anchor="middle">40</text><line x1="514.25" y1="160.2" x2="514.25" y2="162.8" stroke="#2b2b2b" stroke-width="0.9"/><text x="514.25" y="173.68" font-size="8" fill="#333333" text-anchor="middle">50</text><text x="423.6" y="101.3" font-size="9.3" fill="#333333" text-anchor="middle" textLength="83.2" lengthAdjust="spacingAndGlyphs" transform="rotate(-90 423.6 101.3)">Serum LIF levels (pg/ml)</text><text x="480.3" y="187.7" font-size="9.4" fill="#333333" text-anchor="middle" textLength="55.9" lengthAdjust="spacingAndGlyphs">Survial post BMT</text><text x="480.2" y="199.9" font-size="9.4" fill="#333333" text-anchor="middle" textLength="20.2" lengthAdjust="spacingAndGlyphs">(days)</text><line x1="467.8" y1="152.5" x2="499.5" y2="69" stroke="#c0143c" stroke-width="1.0"/><rect x="466.5" y="140.1" width="2.8" height="2.2" fill="#b3123c" stroke="none" stroke-width="0"/><rect x="474.7" y="115.2" width="2.8" height="2.2" fill="#b3123c" stroke="none" stroke-width="0"/><rect x="471.9" y="123.4" width="2.8" height="2.2" fill="#b3123c" stroke="none" stroke-width="0"/><rect x="498.2" y="55.9" width="2.8" height="2.2" fill="#b3123c" stroke="none" stroke-width="0"/><rect x="498.2" y="81.9" width="2.8" height="2.2" fill="#b3123c" stroke="none" stroke-width="0"/><rect x="468.5" y="142.5" width="2.8" height="2.2" fill="#b3123c" stroke="none" stroke-width="0"/><rect x="472.2" y="143.1" width="2.8" height="2.2" fill="#b3123c" stroke="none" stroke-width="0"/><rect x="471.7" y="141.7" width="2.8" height="2.2" fill="#b3123c" stroke="none" stroke-width="0"/><rect x="470.6" y="150.1" width="2.8" height="2.2" fill="#b3123c" stroke="none" stroke-width="0"/><rect x="468.9" y="155.7" width="2.8" height="2.2" fill="#b3123c" stroke="none" stroke-width="0"/><rect x="467.7" y="156.8" width="2.8" height="2.2" fill="#b3123c" stroke="none" stroke-width="0"/><text x="482.8" y="130.8" font-size="8.3" fill="#333333" textLength="35" lengthAdjust="spacingAndGlyphs">r = 0.9373</text><text x="482.8" y="139.9" font-size="8.3" fill="#333333" textLength="36.2" lengthAdjust="spacingAndGlyphs"><tspan font-style="italic">P</tspan> &lt; 0.0001</text><text x="482.8" y="148.8" font-size="8.3" fill="#333333" textLength="21.3" lengthAdjust="spacingAndGlyphs">n = 11</text><text x="99.5" y="255.4" font-size="8" fill="#333333" textLength="30.5" lengthAdjust="spacingAndGlyphs">B6 to F1</text><path d="M191.1,254.9 C189.5,252.6 186.6,251.9 184.3,252.3 C181.6,252.8 179.6,254.6 177.6,255.8 C176.6,256.4 175.4,256.8 174.5,256.7" fill="none" stroke="#707070" stroke-width="1.3" stroke-linecap="round"/><path d="M190.2,255.6 C195.6,255.6 199.3,259.4 199.3,263.8 C199.3,267.0 196.8,269.4 195.0,271.1 C193.6,272.5 191.9,273.1 190.3,273.1 C188.8,273.1 187.1,272.5 185.8,271.1 C184.0,269.4 181.2,267.0 181.2,263.8 C181.2,259.4 184.8,255.6 190.2,255.6 Z" fill="#c4c4c4" stroke="#7c7c7c" stroke-width="0.85"/><ellipse cx="190.2" cy="259.8" rx="5.4" ry="3.2" fill="#d6d6d6"/><path d="M181.8,263.0 C184.6,260.9 188.3,262.4 189.6,266.4" fill="none" stroke="#8a8a8a" stroke-width="0.85"/><path d="M198.7,263.0 C195.9,260.9 192.2,262.4 190.9,266.4" fill="none" stroke="#8a8a8a" stroke-width="0.85"/><circle cx="188.1" cy="269.5" r="0.85" fill="#1e1e1e" stroke="none" stroke-width="0"/><circle cx="192.6" cy="269.5" r="0.85" fill="#1e1e1e" stroke="none" stroke-width="0"/><circle cx="190.4" cy="272.5" r="0.75" fill="#2a2a2a" stroke="none" stroke-width="0"/><line x1="187.3" y1="271.2" x2="183.1" y2="270.2" stroke="#9a9a9a" stroke-width="0.45"/><line x1="187.3" y1="271.8" x2="183.5" y2="273.6" stroke="#9a9a9a" stroke-width="0.45"/><line x1="193.3" y1="271.2" x2="197.5" y2="270.2" stroke="#9a9a9a" stroke-width="0.45"/><line x1="193.3" y1="271.8" x2="197.1" y2="273.6" stroke="#9a9a9a" stroke-width="0.45"/><g transform="translate(201.5 255.2) rotate(-19.5)"><rect x="1.2" y="-1.25" width="13.6" height="2.5" fill="#f1f1f6" stroke="#c2c2cc" stroke-width="0.5"/><ellipse cx="1.0" cy="0" rx="1.4" ry="0.9" fill="#333"/><rect x="14.6" y="-1.5" width="4.6" height="3.0" fill="#9494cc"/><circle cx="18.8" cy="-1.0" r="1.35" fill="#8686c4"/><circle cx="23.2" cy="-0.9" r="1.6" fill="#8282c0"/><circle cx="24.4" cy="1.0" r="1.2" fill="#8a8ac6"/><rect x="19" y="-0.8" width="4" height="1.6" fill="#a0a0d2"/></g><text x="230" y="253.4" font-size="8.2" fill="#333333" textLength="14.2" lengthAdjust="spacingAndGlyphs">PBS</text><text x="230" y="265.9" font-size="8.2" fill="#333333" textLength="24.2" lengthAdjust="spacingAndGlyphs">or rLIF</text><text x="178.4" y="285.4" font-size="8.2" fill="#333333" textLength="7.6" lengthAdjust="spacingAndGlyphs">IR</text><text x="189.6" y="285.4" font-size="8.2" fill="#333333" textLength="16.6" lengthAdjust="spacingAndGlyphs">BMT</text><line x1="179.6" y1="292.4" x2="179.6" y2="300" stroke="#333" stroke-width="0.9"/><line x1="189.2" y1="292.4" x2="189.2" y2="300" stroke="#333" stroke-width="0.9"/><line x1="148.7" y1="306.8" x2="266.4" y2="306.8" stroke="#333" stroke-width="1.0"/><line x1="151.25" y1="304.6" x2="151.25" y2="306.8" stroke="#333" stroke-width="0.8"/><line x1="160.5" y1="304.6" x2="160.5" y2="306.8" stroke="#333" stroke-width="0.8"/><line x1="170" y1="304.6" x2="170" y2="306.8" stroke="#333" stroke-width="0.8"/><line x1="179.5" y1="304.6" x2="179.5" y2="306.8" stroke="#333" stroke-width="0.8"/><line x1="188.75" y1="304.6" x2="188.75" y2="306.8" stroke="#333" stroke-width="0.8"/><line x1="198.75" y1="304.6" x2="198.75" y2="306.8" stroke="#333" stroke-width="0.8"/><line x1="208" y1="304.6" x2="208" y2="306.8" stroke="#333" stroke-width="0.8"/><line x1="217.5" y1="304.6" x2="217.5" y2="306.8" stroke="#333" stroke-width="0.8"/><line x1="227.5" y1="304.6" x2="227.5" y2="306.8" stroke="#333" stroke-width="0.8"/><line x1="238.75" y1="304.6" x2="238.75" y2="306.8" stroke="#333" stroke-width="0.8"/><line x1="248" y1="304.6" x2="248" y2="306.8" stroke="#333" stroke-width="0.8"/><line x1="257.5" y1="304.6" x2="257.5" y2="306.8" stroke="#333" stroke-width="0.8"/><text x="151.25" y="317.61" font-size="7.8" fill="#333333" text-anchor="middle">-4</text><text x="160.5" y="317.61" font-size="7.8" fill="#333333" text-anchor="middle">-3</text><text x="170" y="317.61" font-size="7.8" fill="#333333" text-anchor="middle">-2</text><text x="179.5" y="317.61" font-size="7.8" fill="#333333" text-anchor="middle">-1</text><text x="188.75" y="317.61" font-size="7.8" fill="#333333" text-anchor="middle">0</text><text x="198.75" y="317.61" font-size="7.8" fill="#333333" text-anchor="middle">1</text><text x="208" y="317.61" font-size="7.8" fill="#333333" text-anchor="middle">2</text><text x="217.5" y="317.61" font-size="7.8" fill="#333333" text-anchor="middle">3</text><text x="238.75" y="317.61" font-size="7.8" fill="#333333" text-anchor="middle">8</text><text x="248" y="317.61" font-size="7.8" fill="#333333" text-anchor="middle">9</text><text x="257.5" y="317.61" font-size="7.8" fill="#333333" text-anchor="middle">10</text><text x="76.6" y="317.6" font-size="8.2" fill="#333333" textLength="53" lengthAdjust="spacingAndGlyphs">Day from BMT</text><text x="79.8" y="334.3" font-size="8.2" fill="#333333" textLength="47.2" lengthAdjust="spacingAndGlyphs">rLIF D-4 - D3</text><text x="79.8" y="348" font-size="8.2" fill="#333333" textLength="44.4" lengthAdjust="spacingAndGlyphs">rLIF D1 - D3</text><text x="79.8" y="362" font-size="8.2" fill="#333333" textLength="49.2" lengthAdjust="spacingAndGlyphs">rLIF D8 - D10</text><g transform="rotate(23 148.8 331.7)"><rect x="147.45000000000002" y="326.09999999999997" width="2.7" height="11.2" rx="1.35" fill="#f2f2f2" stroke="#6e6e6e" stroke-width="0.75"/><line x1="148.8" y1="326.09999999999997" x2="148.8" y2="328.5" stroke="#555" stroke-width="1.6"/><line x1="148.8" y1="335.3" x2="148.8" y2="337.5" stroke="#555" stroke-width="1.2"/></g><g transform="rotate(23 157.4 331.7)"><rect x="156.05" y="326.09999999999997" width="2.7" height="11.2" rx="1.35" fill="#f2f2f2" stroke="#6e6e6e" stroke-width="0.75"/><line x1="157.4" y1="326.09999999999997" x2="157.4" y2="328.5" stroke="#555" stroke-width="1.6"/><line x1="157.4" y1="335.3" x2="157.4" y2="337.5" stroke="#555" stroke-width="1.2"/></g><g transform="rotate(23 167.6 331.7)"><rect x="166.25" y="326.09999999999997" width="2.7" height="11.2" rx="1.35" fill="#f2f2f2" stroke="#6e6e6e" stroke-width="0.75"/><line x1="167.6" y1="326.09999999999997" x2="167.6" y2="328.5" stroke="#555" stroke-width="1.6"/><line x1="167.6" y1="335.3" x2="167.6" y2="337.5" stroke="#555" stroke-width="1.2"/></g><g transform="rotate(23 178.2 331.7)"><rect x="176.85" y="326.09999999999997" width="2.7" height="11.2" rx="1.35" fill="#f2f2f2" stroke="#6e6e6e" stroke-width="0.75"/><line x1="178.2" y1="326.09999999999997" x2="178.2" y2="328.5" stroke="#555" stroke-width="1.6"/><line x1="178.2" y1="335.3" x2="178.2" y2="337.5" stroke="#555" stroke-width="1.2"/></g><g transform="rotate(23 194.9 331.7)"><rect x="193.55" y="326.09999999999997" width="2.7" height="11.2" rx="1.35" fill="#f2f2f2" stroke="#6e6e6e" stroke-width="0.75"/><line x1="194.9" y1="326.09999999999997" x2="194.9" y2="328.5" stroke="#555" stroke-width="1.6"/><line x1="194.9" y1="335.3" x2="194.9" y2="337.5" stroke="#555" stroke-width="1.2"/></g><g transform="rotate(23 204.5 331.7)"><rect x="203.15" y="326.09999999999997" width="2.7" height="11.2" rx="1.35" fill="#f2f2f2" stroke="#6e6e6e" stroke-width="0.75"/><line x1="204.5" y1="326.09999999999997" x2="204.5" y2="328.5" stroke="#555" stroke-width="1.6"/><line x1="204.5" y1="335.3" x2="204.5" y2="337.5" stroke="#555" stroke-width="1.2"/></g><g transform="rotate(23 214.9 331.7)"><rect x="213.55" y="326.09999999999997" width="2.7" height="11.2" rx="1.35" fill="#f2f2f2" stroke="#6e6e6e" stroke-width="0.75"/><line x1="214.9" y1="326.09999999999997" x2="214.9" y2="328.5" stroke="#555" stroke-width="1.6"/><line x1="214.9" y1="335.3" x2="214.9" y2="337.5" stroke="#555" stroke-width="1.2"/></g><g transform="rotate(23 194.9 346.6)"><rect x="193.55" y="341.0" width="2.7" height="11.2" rx="1.35" fill="#f2f2f2" stroke="#6e6e6e" stroke-width="0.75"/><line x1="194.9" y1="341.0" x2="194.9" y2="343.40000000000003" stroke="#555" stroke-width="1.6"/><line x1="194.9" y1="350.20000000000005" x2="194.9" y2="352.40000000000003" stroke="#555" stroke-width="1.2"/></g><g transform="rotate(23 204.5 346.6)"><rect x="203.15" y="341.0" width="2.7" height="11.2" rx="1.35" fill="#f2f2f2" stroke="#6e6e6e" stroke-width="0.75"/><line x1="204.5" y1="341.0" x2="204.5" y2="343.40000000000003" stroke="#555" stroke-width="1.6"/><line x1="204.5" y1="350.20000000000005" x2="204.5" y2="352.40000000000003" stroke="#555" stroke-width="1.2"/></g><g transform="rotate(23 214.9 346.6)"><rect x="213.55" y="341.0" width="2.7" height="11.2" rx="1.35" fill="#f2f2f2" stroke="#6e6e6e" stroke-width="0.75"/><line x1="214.9" y1="341.0" x2="214.9" y2="343.40000000000003" stroke="#555" stroke-width="1.6"/><line x1="214.9" y1="350.20000000000005" x2="214.9" y2="352.40000000000003" stroke="#555" stroke-width="1.2"/></g><g transform="rotate(23 236.5 358.9)"><rect x="235.15" y="353.29999999999995" width="2.7" height="11.2" rx="1.35" fill="#f2f2f2" stroke="#6e6e6e" stroke-width="0.75"/><line x1="236.5" y1="353.29999999999995" x2="236.5" y2="355.7" stroke="#555" stroke-width="1.6"/><line x1="236.5" y1="362.5" x2="236.5" y2="364.7" stroke="#555" stroke-width="1.2"/></g><g transform="rotate(23 246.2 358.9)"><rect x="244.85" y="353.29999999999995" width="2.7" height="11.2" rx="1.35" fill="#f2f2f2" stroke="#6e6e6e" stroke-width="0.75"/><line x1="246.2" y1="353.29999999999995" x2="246.2" y2="355.7" stroke="#555" stroke-width="1.6"/><line x1="246.2" y1="362.5" x2="246.2" y2="364.7" stroke="#555" stroke-width="1.2"/></g><g transform="rotate(23 256.5 358.9)"><rect x="255.15" y="353.29999999999995" width="2.7" height="11.2" rx="1.35" fill="#f2f2f2" stroke="#6e6e6e" stroke-width="0.75"/><line x1="256.5" y1="353.29999999999995" x2="256.5" y2="355.7" stroke="#555" stroke-width="1.6"/><line x1="256.5" y1="362.5" x2="256.5" y2="364.7" stroke="#555" stroke-width="1.2"/></g><line x1="283.8" y1="234.3" x2="296.3" y2="234.3" stroke="#5fbb5c" stroke-width="1.2"/><text x="299.6" y="237.2" font-size="8" fill="#333333" textLength="11.4" lengthAdjust="spacingAndGlyphs">BM</text><line x1="283.8" y1="244.5" x2="296.3" y2="244.5" stroke="#3767a8" stroke-width="1.2"/><text x="299.6" y="247.4" font-size="8" fill="#333333" textLength="25" lengthAdjust="spacingAndGlyphs">BM + T</text><line x1="283.8" y1="254.3" x2="296.3" y2="254.3" stroke="#4b3768" stroke-width="1.0" stroke-dasharray="2.6,2.3"/><text x="299.6" y="257.2" font-size="8" fill="#333333" textLength="83.2" lengthAdjust="spacingAndGlyphs">BM + T + rLIF (D-4 - D3)</text><line x1="283.8" y1="264.1" x2="296.3" y2="264.1" stroke="#c41a48" stroke-width="1.2"/><text x="299.6" y="267" font-size="8" fill="#333333" textLength="80.6" lengthAdjust="spacingAndGlyphs">BM + T + rLIF (D1 - D3)</text><line x1="283.8" y1="274.3" x2="296.3" y2="274.3" stroke="#f4a234" stroke-width="1.2"/><text x="299.6" y="277.2" font-size="8" fill="#333333" textLength="85" lengthAdjust="spacingAndGlyphs">BM + T + rLIF (D8 - D10)</text><polyline points="394.7,244.3 396.5,244.3 396.5,276.3 394.7,276.3" fill="none" stroke="#333" stroke-width="0.9" stroke-linejoin="miter"/><line x1="395.3" y1="254.2" x2="396.5" y2="254.2" stroke="#333" stroke-width="0.9"/><line x1="395.3" y1="265.6" x2="396.5" y2="265.6" stroke="#333" stroke-width="0.9"/><circle cx="399.8" cy="245" r="0.95" fill="#333" stroke="none" stroke-width="0"/><circle cx="399.8" cy="248.7" r="0.95" fill="#333" stroke="none" stroke-width="0"/><circle cx="399.8" cy="252.4" r="0.95" fill="#333" stroke="none" stroke-width="0"/><circle cx="399.8" cy="260.3" r="0.95" fill="#333" stroke="none" stroke-width="0"/><circle cx="399.8" cy="271.2" r="0.95" fill="#333" stroke="none" stroke-width="0"/><polyline points="404.5,255.3 406.3,255.3 406.3,275.3 404.5,275.3" fill="none" stroke="#333" stroke-width="0.9" stroke-linejoin="miter"/><circle cx="411.1" cy="263.2" r="0.95" fill="#333" stroke="none" stroke-width="0"/><circle cx="411.1" cy="266.7" r="0.95" fill="#333" stroke="none" stroke-width="0"/><polyline points="415,243.8 416.8,243.8 416.8,264.2 415,264.2" fill="none" stroke="#333" stroke-width="0.9" stroke-linejoin="miter"/><circle cx="420.5" cy="250" r="0.95" fill="#333" stroke="none" stroke-width="0"/><circle cx="420.5" cy="253.6" r="0.95" fill="#333" stroke="none" stroke-width="0"/><circle cx="420.5" cy="257.1" r="0.95" fill="#333" stroke="none" stroke-width="0"/><polyline points="424.7,243.8 426.5,243.8 426.5,275.3 424.7,275.3" fill="none" stroke="#333" stroke-width="0.9" stroke-linejoin="miter"/><circle cx="429.8" cy="259.6" r="0.95" fill="#333" stroke="none" stroke-width="0"/><line x1="314" y1="283" x2="314" y2="372.2" stroke="#333" stroke-width="1.25"/><line x1="312.8" y1="371.7" x2="431.8" y2="371.7" stroke="#333" stroke-width="1.25"/><line x1="311.2" y1="371.7" x2="314" y2="371.7" stroke="#333" stroke-width="0.9"/><text x="307.8" y="374.2" font-size="8" fill="#333333" text-anchor="end">0</text><line x1="311.2" y1="331.22" x2="314" y2="331.22" stroke="#333" stroke-width="0.9"/><text x="307.8" y="333.72" font-size="8" fill="#333333" text-anchor="end">50</text><line x1="311.2" y1="290.75" x2="314" y2="290.75" stroke="#333" stroke-width="0.9"/><text x="307.8" y="293.25" font-size="8" fill="#333333" text-anchor="end">100</text><line x1="314" y1="371.7" x2="314" y2="374.1" stroke="#333" stroke-width="0.9"/><text x="314" y="383.68" font-size="8" fill="#333333" text-anchor="middle">0</text><line x1="336.87" y1="371.7" x2="336.87" y2="374.1" stroke="#333" stroke-width="0.9"/><text x="336.87" y="383.68" font-size="8" fill="#333333" text-anchor="middle">20</text><line x1="359.74" y1="371.7" x2="359.74" y2="374.1" stroke="#333" stroke-width="0.9"/><text x="359.74" y="383.68" font-size="8" fill="#333333" text-anchor="middle">40</text><line x1="382.61" y1="371.7" x2="382.61" y2="374.1" stroke="#333" stroke-width="0.9"/><text x="382.61" y="383.68" font-size="8" fill="#333333" text-anchor="middle">60</text><line x1="405.48" y1="371.7" x2="405.48" y2="374.1" stroke="#333" stroke-width="0.9"/><text x="405.48" y="383.68" font-size="8" fill="#333333" text-anchor="middle">80</text><line x1="428.35" y1="371.7" x2="428.35" y2="374.1" stroke="#333" stroke-width="0.9"/><text x="428.35" y="383.68" font-size="8" fill="#333333" text-anchor="middle">100</text><text x="291" y="326" font-size="9.3" fill="#333333" text-anchor="middle" textLength="67.2" lengthAdjust="spacingAndGlyphs" transform="rotate(-90 291 326)">Percent survival (%)</text><text x="373.1" y="396.9" font-size="9.4" fill="#333333" text-anchor="middle" textLength="50" lengthAdjust="spacingAndGlyphs">Days post BMT</text><polyline points="313.8,290.7 418,290.7" fill="none" stroke="#5fbb5c" stroke-width="1.2" stroke-linejoin="miter"/><polyline points="313.8,290.7 348.4,290.7 348.4,311.2 354.1,311.2 354.1,321.2 361.1,321.2 361.1,331 367.1,331 367.1,351 372.7,351 372.7,371.5" fill="none" stroke="#f4a234" stroke-width="1.2" stroke-linejoin="miter"/><polyline points="313.8,290.7 354.1,290.7 354.1,301.1 365.7,301.1 365.7,320.7 371.4,320.7 371.4,331 377.2,331 377.2,351 382.7,351 382.7,371.5" fill="none" stroke="#c41a48" stroke-width="1.2" stroke-linejoin="miter"/><polyline points="313.8,290.7 333.4,290.7 333.4,302.8 336.8,302.8 336.8,309.4 339.4,309.4 339.4,315.5 342,315.5 342,326.7 344.6,326.7 344.6,333.7 347.2,333.7 347.2,340.6 352.4,340.6 352.4,358.7 355.3,358.7 355.3,364.8 368.8,364.8 368.8,371.5" fill="none" stroke="#3767a8" stroke-width="1.2" stroke-linejoin="miter"/><polyline points="313.8,290.7 348.4,290.7 348.4,298.2 367.5,298.2 367.5,306.8 377.2,306.8 377.2,322.4 393.4,322.4 393.4,331 418,331" fill="none" stroke="#4b3768" stroke-width="1.1" stroke-linejoin="miter" stroke-dasharray="2.4,1.8"/><line x1="124.4" y1="416.9" x2="137" y2="416.9" stroke="#5fbb5c" stroke-width="1.2"/><text x="139.8" y="419.8" font-size="8" fill="#333333" textLength="11.4" lengthAdjust="spacingAndGlyphs">BM</text><line x1="124.4" y1="428" x2="137" y2="428" stroke="#3767a8" stroke-width="1.2"/><text x="139.8" y="430.9" font-size="8" fill="#333333" textLength="25" lengthAdjust="spacingAndGlyphs">BM + T</text><line x1="124.4" y1="439.6" x2="137" y2="439.6" stroke="#333" stroke-width="0.9" stroke-dasharray="2.6,2.3"/><text x="139.8" y="442.5" font-size="8" fill="#333333" textLength="82.9" lengthAdjust="spacingAndGlyphs">BM + T + rLIF (D-4 - D3)</text><line x1="124.4" y1="450.6" x2="137" y2="450.6" stroke="#c41a48" stroke-width="1.2"/><text x="139.8" y="453.5" font-size="8" fill="#333333" textLength="80" lengthAdjust="spacingAndGlyphs">BM + T + rLIF (D1 - D3)</text><line x1="124.4" y1="461.7" x2="137" y2="461.7" stroke="#f4a234" stroke-width="1.2"/><text x="139.8" y="464.6" font-size="8" fill="#333333" textLength="84.2" lengthAdjust="spacingAndGlyphs">BM + T + rLIF (D8 - D10)</text><line x1="301.6" y1="415.9" x2="313.7" y2="415.9" stroke="#5fbb5c" stroke-width="1.2"/><text x="317" y="418.8" font-size="8" fill="#333333" textLength="11.4" lengthAdjust="spacingAndGlyphs">BM</text><line x1="301.6" y1="427" x2="313.7" y2="427" stroke="#3767a8" stroke-width="1.2"/><text x="317" y="429.9" font-size="8" fill="#333333" textLength="25" lengthAdjust="spacingAndGlyphs">BM + T</text><line x1="301.6" y1="439.1" x2="313.7" y2="439.1" stroke="#333" stroke-width="0.9" stroke-dasharray="2.6,2.3"/><text x="317" y="442" font-size="8" fill="#333333" textLength="82.9" lengthAdjust="spacingAndGlyphs">BM + T + rLIF (D-4 - D3)</text><line x1="301.6" y1="450.1" x2="313.7" y2="450.1" stroke="#c41a48" stroke-width="1.2"/><text x="317" y="453" font-size="8" fill="#333333" textLength="80" lengthAdjust="spacingAndGlyphs">BM + T + rLIF (D1 - D3)</text><line x1="301.6" y1="461.8" x2="313.7" y2="461.8" stroke="#f4a234" stroke-width="1.2"/><text x="317" y="464.7" font-size="8" fill="#333333" textLength="84.2" lengthAdjust="spacingAndGlyphs">BM + T + rLIF (D8 - D10)</text><polyline points="230.2,427.7 232.2,427.7 232.2,461.3 230.2,461.3" fill="none" stroke="#333" stroke-width="0.9" stroke-linejoin="miter"/><line x1="230.8" y1="440.2" x2="232.2" y2="440.2" stroke="#333" stroke-width="0.9"/><line x1="230.8" y1="450.8" x2="232.2" y2="450.8" stroke="#333" stroke-width="0.9"/><circle cx="237" cy="434.2" r="0.95" fill="#333" stroke="none" stroke-width="0"/><text x="235.03" y="437.6" font-size="7.2" fill="#333" textLength="10.4" lengthAdjust="spacingAndGlyphs" transform="rotate(90 235.03 437.6)">n.s.</text><text x="235.03" y="451" font-size="7.2" fill="#333" textLength="10.4" lengthAdjust="spacingAndGlyphs" transform="rotate(90 235.03 451)">n.s.</text><polyline points="244,439.2 246,439.2 246,461.3 244,461.3" fill="none" stroke="#333" stroke-width="0.9" stroke-linejoin="miter"/><circle cx="249.5" cy="450.3" r="0.95" fill="#333" stroke="none" stroke-width="0"/><polyline points="254.7,427.7 256.7,427.7 256.7,449.8 254.7,449.8" fill="none" stroke="#333" stroke-width="0.9" stroke-linejoin="miter"/><text x="259.13" y="433.5" font-size="7.2" fill="#333" textLength="10.8" lengthAdjust="spacingAndGlyphs" transform="rotate(90 259.13 433.5)">n.s.</text><polyline points="265.3,427.7 267.3,427.7 267.3,461.3 265.3,461.3" fill="none" stroke="#333" stroke-width="0.9" stroke-linejoin="miter"/><text x="270.13" y="439" font-size="7.2" fill="#333" textLength="10.8" lengthAdjust="spacingAndGlyphs" transform="rotate(90 270.13 439)">n.s.</text><polyline points="409.5,428 411.5,428 411.5,461.2 409.5,461.2" fill="none" stroke="#333" stroke-width="0.9" stroke-linejoin="miter"/><line x1="410.1" y1="440" x2="411.5" y2="440" stroke="#333" stroke-width="0.9"/><line x1="410.1" y1="450.6" x2="411.5" y2="450.6" stroke="#333" stroke-width="0.9"/><circle cx="416.2" cy="434.2" r="0.95" fill="#333" stroke="none" stroke-width="0"/><text x="414.33" y="437.6" font-size="7.2" fill="#333" textLength="10.4" lengthAdjust="spacingAndGlyphs" transform="rotate(90 414.33 437.6)">n.s.</text><text x="414.33" y="451" font-size="7.2" fill="#333" textLength="10.4" lengthAdjust="spacingAndGlyphs" transform="rotate(90 414.33 451)">n.s.</text><polyline points="423.4,438.8 425.4,438.8 425.4,461.2 423.4,461.2" fill="none" stroke="#333" stroke-width="0.9" stroke-linejoin="miter"/><text x="427.13" y="444.2" font-size="7.2" fill="#333" textLength="10" lengthAdjust="spacingAndGlyphs" transform="rotate(90 427.13 444.2)">n.s.</text><polyline points="434.2,428 436.2,428 436.2,449.6 434.2,449.6" fill="none" stroke="#333" stroke-width="0.9" stroke-linejoin="miter"/><text x="438.53" y="433.5" font-size="7.2" fill="#333" textLength="10.8" lengthAdjust="spacingAndGlyphs" transform="rotate(90 438.53 433.5)">n.s.</text><polyline points="444.6,428 446.6,428 446.6,461.2 444.6,461.2" fill="none" stroke="#333" stroke-width="0.9" stroke-linejoin="miter"/><text x="449.33" y="438.2" font-size="7.2" fill="#333" textLength="10.8" lengthAdjust="spacingAndGlyphs" transform="rotate(90 449.33 438.2)">n.s.</text><line x1="136.7" y1="473.3" x2="136.7" y2="570.6" stroke="#333" stroke-width="1.3"/><line x1="136.2" y1="570.1" x2="263.6" y2="570.1" stroke="#333" stroke-width="1.3"/><line x1="133.7" y1="475.82" x2="136.7" y2="475.82" stroke="#333" stroke-width="0.9"/><text x="130.8" y="478.32" font-size="8" fill="#333333" text-anchor="end">140</text><line x1="133.7" y1="496.66" x2="136.7" y2="496.66" stroke="#333" stroke-width="0.9"/><text x="130.8" y="499.16" font-size="8" fill="#333333" text-anchor="end">120</text><line x1="133.7" y1="517.5" x2="136.7" y2="517.5" stroke="#333" stroke-width="0.9"/><text x="130.8" y="520" font-size="8" fill="#333333" text-anchor="end">100</text><line x1="133.7" y1="538.34" x2="136.7" y2="538.34" stroke="#333" stroke-width="0.9"/><text x="130.8" y="540.84" font-size="8" fill="#333333" text-anchor="end">80</text><line x1="133.7" y1="559.18" x2="136.7" y2="559.18" stroke="#333" stroke-width="0.9"/><text x="130.8" y="561.68" font-size="8" fill="#333333" text-anchor="end">60</text><line x1="136.7" y1="570.1" x2="136.7" y2="572.6" stroke="#333" stroke-width="0.9"/><text x="136.7" y="582.38" font-size="8" fill="#333333" text-anchor="middle">0</text><line x1="161.68" y1="570.1" x2="161.68" y2="572.6" stroke="#333" stroke-width="0.9"/><text x="161.68" y="582.38" font-size="8" fill="#333333" text-anchor="middle">20</text><line x1="186.66" y1="570.1" x2="186.66" y2="572.6" stroke="#333" stroke-width="0.9"/><text x="186.66" y="582.38" font-size="8" fill="#333333" text-anchor="middle">40</text><line x1="211.64" y1="570.1" x2="211.64" y2="572.6" stroke="#333" stroke-width="0.9"/><text x="211.64" y="582.38" font-size="8" fill="#333333" text-anchor="middle">60</text><line x1="236.62" y1="570.1" x2="236.62" y2="572.6" stroke="#333" stroke-width="0.9"/><text x="236.62" y="582.38" font-size="8" fill="#333333" text-anchor="middle">80</text><line x1="261.6" y1="570.1" x2="261.6" y2="572.6" stroke="#333" stroke-width="0.9"/><text x="261.6" y="582.38" font-size="8" fill="#333333" text-anchor="middle">100</text><text x="110" y="532.1" font-size="9.3" fill="#333333" text-anchor="middle" textLength="78.6" lengthAdjust="spacingAndGlyphs" transform="rotate(-90 110 532.1)">% starting body weight</text><text x="200.8" y="596.9" font-size="9.4" fill="#333333" text-anchor="middle" textLength="49.2" lengthAdjust="spacingAndGlyphs">Days post BMT</text><line x1="142.94" y1="517.73" x2="142.94" y2="518.93" stroke="#4aa047" stroke-width="0.8"/><line x1="141.64" y1="517.73" x2="144.25" y2="517.73" stroke="#4aa047" stroke-width="0.8"/><line x1="141.64" y1="518.93" x2="144.25" y2="518.93" stroke="#4aa047" stroke-width="0.8"/><line x1="149.19" y1="515.24" x2="149.19" y2="516.84" stroke="#4aa047" stroke-width="0.8"/><line x1="147.89" y1="515.24" x2="150.49" y2="515.24" stroke="#4aa047" stroke-width="0.8"/><line x1="147.89" y1="516.84" x2="150.49" y2="516.84" stroke="#4aa047" stroke-width="0.8"/><line x1="155.44" y1="511.5" x2="155.44" y2="513.5" stroke="#4aa047" stroke-width="0.8"/><line x1="154.13" y1="511.5" x2="156.74" y2="511.5" stroke="#4aa047" stroke-width="0.8"/><line x1="154.13" y1="513.5" x2="156.74" y2="513.5" stroke="#4aa047" stroke-width="0.8"/><line x1="161.68" y1="507.65" x2="161.68" y2="510.05" stroke="#4aa047" stroke-width="0.8"/><line x1="160.38" y1="507.65" x2="162.98" y2="507.65" stroke="#4aa047" stroke-width="0.8"/><line x1="160.38" y1="510.05" x2="162.98" y2="510.05" stroke="#4aa047" stroke-width="0.8"/><line x1="167.92" y1="504.85" x2="167.92" y2="507.65" stroke="#4aa047" stroke-width="0.8"/><line x1="166.62" y1="504.85" x2="169.22" y2="504.85" stroke="#4aa047" stroke-width="0.8"/><line x1="166.62" y1="507.65" x2="169.22" y2="507.65" stroke="#4aa047" stroke-width="0.8"/><line x1="174.17" y1="502.48" x2="174.17" y2="506.88" stroke="#4aa047" stroke-width="0.8"/><line x1="172.87" y1="502.48" x2="175.47" y2="502.48" stroke="#4aa047" stroke-width="0.8"/><line x1="172.87" y1="506.88" x2="175.47" y2="506.88" stroke="#4aa047" stroke-width="0.8"/><line x1="180.41" y1="501.37" x2="180.41" y2="507.37" stroke="#4aa047" stroke-width="0.8"/><line x1="179.11" y1="501.37" x2="181.72" y2="501.37" stroke="#4aa047" stroke-width="0.8"/><line x1="179.11" y1="507.37" x2="181.72" y2="507.37" stroke="#4aa047" stroke-width="0.8"/><line x1="186.66" y1="499.06" x2="186.66" y2="504.26" stroke="#4aa047" stroke-width="0.8"/><line x1="185.36" y1="499.06" x2="187.96" y2="499.06" stroke="#4aa047" stroke-width="0.8"/><line x1="185.36" y1="504.26" x2="187.96" y2="504.26" stroke="#4aa047" stroke-width="0.8"/><line x1="192.91" y1="498.3" x2="192.91" y2="501.9" stroke="#4aa047" stroke-width="0.8"/><line x1="191.6" y1="498.3" x2="194.21" y2="498.3" stroke="#4aa047" stroke-width="0.8"/><line x1="191.6" y1="501.9" x2="194.21" y2="501.9" stroke="#4aa047" stroke-width="0.8"/><line x1="199.15" y1="496.33" x2="199.15" y2="500.33" stroke="#4aa047" stroke-width="0.8"/><line x1="197.85" y1="496.33" x2="200.45" y2="496.33" stroke="#4aa047" stroke-width="0.8"/><line x1="197.85" y1="500.33" x2="200.45" y2="500.33" stroke="#4aa047" stroke-width="0.8"/><line x1="205.39" y1="495.73" x2="205.39" y2="500.93" stroke="#4aa047" stroke-width="0.8"/><line x1="204.09" y1="495.73" x2="206.69" y2="495.73" stroke="#4aa047" stroke-width="0.8"/><line x1="204.09" y1="500.93" x2="206.69" y2="500.93" stroke="#4aa047" stroke-width="0.8"/><line x1="211.64" y1="491.25" x2="211.64" y2="496.45" stroke="#4aa047" stroke-width="0.8"/><line x1="210.34" y1="491.25" x2="212.94" y2="491.25" stroke="#4aa047" stroke-width="0.8"/><line x1="210.34" y1="496.45" x2="212.94" y2="496.45" stroke="#4aa047" stroke-width="0.8"/><line x1="217.88" y1="491.86" x2="217.88" y2="496.66" stroke="#4aa047" stroke-width="0.8"/><line x1="216.58" y1="491.86" x2="219.19" y2="491.86" stroke="#4aa047" stroke-width="0.8"/><line x1="216.58" y1="496.66" x2="219.19" y2="496.66" stroke="#4aa047" stroke-width="0.8"/><line x1="224.13" y1="487.61" x2="224.13" y2="493.21" stroke="#4aa047" stroke-width="0.8"/><line x1="222.83" y1="487.61" x2="225.43" y2="487.61" stroke="#4aa047" stroke-width="0.8"/><line x1="222.83" y1="493.21" x2="225.43" y2="493.21" stroke="#4aa047" stroke-width="0.8"/><line x1="230.38" y1="487.81" x2="230.38" y2="493.01" stroke="#4aa047" stroke-width="0.8"/><line x1="229.07" y1="487.81" x2="231.68" y2="487.81" stroke="#4aa047" stroke-width="0.8"/><line x1="229.07" y1="493.01" x2="231.68" y2="493.01" stroke="#4aa047" stroke-width="0.8"/><line x1="236.62" y1="483.57" x2="236.62" y2="490.37" stroke="#4aa047" stroke-width="0.8"/><line x1="235.32" y1="483.57" x2="237.92" y2="483.57" stroke="#4aa047" stroke-width="0.8"/><line x1="235.32" y1="490.37" x2="237.92" y2="490.37" stroke="#4aa047" stroke-width="0.8"/><line x1="242.87" y1="480.88" x2="242.87" y2="488.48" stroke="#4aa047" stroke-width="0.8"/><line x1="241.56" y1="480.88" x2="244.17" y2="480.88" stroke="#4aa047" stroke-width="0.8"/><line x1="241.56" y1="488.48" x2="244.17" y2="488.48" stroke="#4aa047" stroke-width="0.8"/><line x1="249.11" y1="477.46" x2="249.11" y2="486.26" stroke="#4aa047" stroke-width="0.8"/><line x1="247.81" y1="477.46" x2="250.41" y2="477.46" stroke="#4aa047" stroke-width="0.8"/><line x1="247.81" y1="486.26" x2="250.41" y2="486.26" stroke="#4aa047" stroke-width="0.8"/><path d="M136.70,517.50 C137.74,517.64 140.86,518.58 142.94,518.33 C145.03,518.09 147.11,517.01 149.19,516.04 C151.27,515.07 153.35,513.70 155.44,512.50 C157.52,511.30 159.60,509.89 161.68,508.85 C163.76,507.81 165.84,506.94 167.92,506.25 C170.01,505.55 172.09,505.00 174.17,504.68 C176.25,504.37 178.33,504.87 180.41,504.37 C182.50,503.87 184.58,502.37 186.66,501.66 C188.74,500.95 190.82,500.65 192.91,500.10 C194.99,499.54 197.07,498.62 199.15,498.33 C201.23,498.03 203.31,499.07 205.39,498.33 C207.48,497.58 209.56,494.52 211.64,493.85 C213.72,493.17 215.80,494.84 217.88,494.26 C219.97,493.69 222.05,491.05 224.13,490.41 C226.21,489.77 228.29,490.98 230.38,490.41 C232.46,489.83 234.54,487.92 236.62,486.97 C238.70,486.01 240.78,485.53 242.87,484.68 C244.95,483.83 248.07,482.33 249.11,481.86" fill="none" stroke="#5fbb5c" stroke-width="1.2" stroke-linejoin="round"/><circle cx="136.7" cy="517.5" r="0.9" fill="#3f9a3c" stroke="none" stroke-width="0"/><circle cx="142.94" cy="518.33" r="0.9" fill="#3f9a3c" stroke="none" stroke-width="0"/><circle cx="149.19" cy="516.04" r="0.9" fill="#3f9a3c" stroke="none" stroke-width="0"/><circle cx="155.44" cy="512.5" r="0.9" fill="#3f9a3c" stroke="none" stroke-width="0"/><circle cx="161.68" cy="508.85" r="0.9" fill="#3f9a3c" stroke="none" stroke-width="0"/><circle cx="167.92" cy="506.25" r="0.9" fill="#3f9a3c" stroke="none" stroke-width="0"/><circle cx="174.17" cy="504.68" r="0.9" fill="#3f9a3c" stroke="none" stroke-width="0"/><circle cx="180.41" cy="504.37" r="0.9" fill="#3f9a3c" stroke="none" stroke-width="0"/><circle cx="186.66" cy="501.66" r="0.9" fill="#3f9a3c" stroke="none" stroke-width="0"/><circle cx="192.91" cy="500.1" r="0.9" fill="#3f9a3c" stroke="none" stroke-width="0"/><circle cx="199.15" cy="498.33" r="0.9" fill="#3f9a3c" stroke="none" stroke-width="0"/><circle cx="205.39" cy="498.33" r="0.9" fill="#3f9a3c" stroke="none" stroke-width="0"/><circle cx="211.64" cy="493.85" r="0.9" fill="#3f9a3c" stroke="none" stroke-width="0"/><circle cx="217.88" cy="494.26" r="0.9" fill="#3f9a3c" stroke="none" stroke-width="0"/><circle cx="224.13" cy="490.41" r="0.9" fill="#3f9a3c" stroke="none" stroke-width="0"/><circle cx="230.38" cy="490.41" r="0.9" fill="#3f9a3c" stroke="none" stroke-width="0"/><circle cx="236.62" cy="486.97" r="0.9" fill="#3f9a3c" stroke="none" stroke-width="0"/><circle cx="242.87" cy="484.68" r="0.9" fill="#3f9a3c" stroke="none" stroke-width="0"/><circle cx="249.11" cy="481.86" r="0.9" fill="#3f9a3c" stroke="none" stroke-width="0"/><line x1="142.94" y1="521.17" x2="142.94" y2="527.17" stroke="#74529a" stroke-width="0.8"/><line x1="141.64" y1="521.17" x2="144.25" y2="521.17" stroke="#74529a" stroke-width="0.8"/><line x1="141.64" y1="527.17" x2="144.25" y2="527.17" stroke="#74529a" stroke-width="0.8"/><line x1="149.19" y1="518.71" x2="149.19" y2="526.71" stroke="#74529a" stroke-width="0.8"/><line x1="147.89" y1="518.71" x2="150.49" y2="518.71" stroke="#74529a" stroke-width="0.8"/><line x1="147.89" y1="526.71" x2="150.49" y2="526.71" stroke="#74529a" stroke-width="0.8"/><line x1="155.44" y1="517.48" x2="155.44" y2="526.28" stroke="#74529a" stroke-width="0.8"/><line x1="154.13" y1="517.48" x2="156.74" y2="517.48" stroke="#74529a" stroke-width="0.8"/><line x1="154.13" y1="526.28" x2="156.74" y2="526.28" stroke="#74529a" stroke-width="0.8"/><line x1="161.68" y1="523.44" x2="161.68" y2="528.24" stroke="#74529a" stroke-width="0.8"/><line x1="160.38" y1="523.44" x2="162.98" y2="523.44" stroke="#74529a" stroke-width="0.8"/><line x1="160.38" y1="528.24" x2="162.98" y2="528.24" stroke="#74529a" stroke-width="0.8"/><line x1="167.92" y1="529.62" x2="167.92" y2="536.02" stroke="#74529a" stroke-width="0.8"/><line x1="166.62" y1="529.62" x2="169.22" y2="529.62" stroke="#74529a" stroke-width="0.8"/><line x1="166.62" y1="536.02" x2="169.22" y2="536.02" stroke="#74529a" stroke-width="0.8"/><line x1="174.17" y1="536.61" x2="174.17" y2="543.41" stroke="#74529a" stroke-width="0.8"/><line x1="172.87" y1="536.61" x2="175.47" y2="536.61" stroke="#74529a" stroke-width="0.8"/><line x1="172.87" y1="543.41" x2="175.47" y2="543.41" stroke="#74529a" stroke-width="0.8"/><line x1="180.41" y1="536.86" x2="180.41" y2="545.66" stroke="#74529a" stroke-width="0.8"/><line x1="179.11" y1="536.86" x2="181.72" y2="536.86" stroke="#74529a" stroke-width="0.8"/><line x1="179.11" y1="545.66" x2="181.72" y2="545.66" stroke="#74529a" stroke-width="0.8"/><line x1="186.66" y1="536.87" x2="186.66" y2="546.07" stroke="#74529a" stroke-width="0.8"/><line x1="185.36" y1="536.87" x2="187.96" y2="536.87" stroke="#74529a" stroke-width="0.8"/><line x1="185.36" y1="546.07" x2="187.96" y2="546.07" stroke="#74529a" stroke-width="0.8"/><line x1="192.91" y1="536.67" x2="192.91" y2="546.27" stroke="#74529a" stroke-width="0.8"/><line x1="191.6" y1="536.67" x2="194.21" y2="536.67" stroke="#74529a" stroke-width="0.8"/><line x1="191.6" y1="546.27" x2="194.21" y2="546.27" stroke="#74529a" stroke-width="0.8"/><line x1="199.15" y1="536.59" x2="199.15" y2="547.39" stroke="#74529a" stroke-width="0.8"/><line x1="197.85" y1="536.59" x2="200.45" y2="536.59" stroke="#74529a" stroke-width="0.8"/><line x1="197.85" y1="547.39" x2="200.45" y2="547.39" stroke="#74529a" stroke-width="0.8"/><line x1="205.39" y1="536.71" x2="205.39" y2="548.31" stroke="#74529a" stroke-width="0.8"/><line x1="204.09" y1="536.71" x2="206.69" y2="536.71" stroke="#74529a" stroke-width="0.8"/><line x1="204.09" y1="548.31" x2="206.69" y2="548.31" stroke="#74529a" stroke-width="0.8"/><line x1="211.64" y1="530.27" x2="211.64" y2="543.07" stroke="#74529a" stroke-width="0.8"/><line x1="210.34" y1="530.27" x2="212.94" y2="530.27" stroke="#74529a" stroke-width="0.8"/><line x1="210.34" y1="543.07" x2="212.94" y2="543.07" stroke="#74529a" stroke-width="0.8"/><line x1="217.88" y1="525.5" x2="217.88" y2="539.5" stroke="#74529a" stroke-width="0.8"/><line x1="216.58" y1="525.5" x2="219.19" y2="525.5" stroke="#74529a" stroke-width="0.8"/><line x1="216.58" y1="539.5" x2="219.19" y2="539.5" stroke="#74529a" stroke-width="0.8"/><line x1="224.13" y1="516.08" x2="224.13" y2="532.88" stroke="#74529a" stroke-width="0.8"/><line x1="222.83" y1="516.08" x2="225.43" y2="516.08" stroke="#74529a" stroke-width="0.8"/><line x1="222.83" y1="532.88" x2="225.43" y2="532.88" stroke="#74529a" stroke-width="0.8"/><line x1="230.38" y1="515.46" x2="230.38" y2="532.26" stroke="#74529a" stroke-width="0.8"/><line x1="229.07" y1="515.46" x2="231.68" y2="515.46" stroke="#74529a" stroke-width="0.8"/><line x1="229.07" y1="532.26" x2="231.68" y2="532.26" stroke="#74529a" stroke-width="0.8"/><line x1="236.62" y1="509.87" x2="236.62" y2="528.67" stroke="#74529a" stroke-width="0.8"/><line x1="235.32" y1="509.87" x2="237.92" y2="509.87" stroke="#74529a" stroke-width="0.8"/><line x1="235.32" y1="528.67" x2="237.92" y2="528.67" stroke="#74529a" stroke-width="0.8"/><line x1="242.87" y1="507.38" x2="242.87" y2="526.58" stroke="#74529a" stroke-width="0.8"/><line x1="241.56" y1="507.38" x2="244.17" y2="507.38" stroke="#74529a" stroke-width="0.8"/><line x1="241.56" y1="526.58" x2="244.17" y2="526.58" stroke="#74529a" stroke-width="0.8"/><line x1="249.11" y1="505.42" x2="249.11" y2="525.42" stroke="#74529a" stroke-width="0.8"/><line x1="247.81" y1="505.42" x2="250.41" y2="505.42" stroke="#74529a" stroke-width="0.8"/><line x1="247.81" y1="525.42" x2="250.41" y2="525.42" stroke="#74529a" stroke-width="0.8"/><path d="M136.70,517.50 C137.74,518.61 140.86,523.30 142.94,524.17 C145.03,525.04 147.11,523.09 149.19,522.71 C151.27,522.33 153.35,521.36 155.44,521.88 C157.52,522.40 159.60,524.01 161.68,525.84 C163.76,527.66 165.84,530.46 167.92,532.82 C170.01,535.18 172.09,538.60 174.17,540.01 C176.25,541.41 178.33,541.01 180.41,541.26 C182.50,541.50 184.58,541.43 186.66,541.47 C188.74,541.50 190.82,541.38 192.91,541.47 C194.99,541.55 197.07,541.81 199.15,541.99 C201.23,542.16 203.31,543.39 205.39,542.51 C207.48,541.62 209.56,538.34 211.64,536.67 C213.72,535.01 215.80,534.54 217.88,532.50 C219.97,530.47 222.05,525.92 224.13,524.48 C226.21,523.04 228.29,524.72 230.38,523.86 C232.46,522.99 234.54,520.42 236.62,519.27 C238.70,518.13 240.78,517.62 242.87,516.98 C244.95,516.34 248.07,515.68 249.11,515.42" fill="none" stroke="#4b2a6a" stroke-width="1.1" stroke-linejoin="round" stroke-dasharray="2.6,1.8"/><circle cx="136.7" cy="517.5" r="0.9" fill="#4a2468" stroke="none" stroke-width="0"/><circle cx="142.94" cy="524.17" r="0.9" fill="#4a2468" stroke="none" stroke-width="0"/><circle cx="149.19" cy="522.71" r="0.9" fill="#4a2468" stroke="none" stroke-width="0"/><circle cx="155.44" cy="521.88" r="0.9" fill="#4a2468" stroke="none" stroke-width="0"/><circle cx="161.68" cy="525.84" r="0.9" fill="#4a2468" stroke="none" stroke-width="0"/><circle cx="167.92" cy="532.82" r="0.9" fill="#4a2468" stroke="none" stroke-width="0"/><circle cx="174.17" cy="540.01" r="0.9" fill="#4a2468" stroke="none" stroke-width="0"/><circle cx="180.41" cy="541.26" r="0.9" fill="#4a2468" stroke="none" stroke-width="0"/><circle cx="186.66" cy="541.47" r="0.9" fill="#4a2468" stroke="none" stroke-width="0"/><circle cx="192.91" cy="541.47" r="0.9" fill="#4a2468" stroke="none" stroke-width="0"/><circle cx="199.15" cy="541.99" r="0.9" fill="#4a2468" stroke="none" stroke-width="0"/><circle cx="205.39" cy="542.51" r="0.9" fill="#4a2468" stroke="none" stroke-width="0"/><circle cx="211.64" cy="536.67" r="0.9" fill="#4a2468" stroke="none" stroke-width="0"/><circle cx="217.88" cy="532.5" r="0.9" fill="#4a2468" stroke="none" stroke-width="0"/><circle cx="224.13" cy="524.48" r="0.9" fill="#4a2468" stroke="none" stroke-width="0"/><circle cx="230.38" cy="523.86" r="0.9" fill="#4a2468" stroke="none" stroke-width="0"/><circle cx="236.62" cy="519.27" r="0.9" fill="#4a2468" stroke="none" stroke-width="0"/><circle cx="242.87" cy="516.98" r="0.9" fill="#4a2468" stroke="none" stroke-width="0"/><circle cx="249.11" cy="515.42" r="0.9" fill="#4a2468" stroke="none" stroke-width="0"/><line x1="142.94" y1="524.76" x2="142.94" y2="527.96" stroke="#f4a234" stroke-width="0.8"/><line x1="141.64" y1="524.76" x2="144.25" y2="524.76" stroke="#f4a234" stroke-width="0.8"/><line x1="141.64" y1="527.96" x2="144.25" y2="527.96" stroke="#f4a234" stroke-width="0.8"/><line x1="149.19" y1="526.53" x2="149.19" y2="529.73" stroke="#f4a234" stroke-width="0.8"/><line x1="147.89" y1="526.53" x2="150.49" y2="526.53" stroke="#f4a234" stroke-width="0.8"/><line x1="147.89" y1="529.73" x2="150.49" y2="529.73" stroke="#f4a234" stroke-width="0.8"/><line x1="155.44" y1="529.98" x2="155.44" y2="533.98" stroke="#f4a234" stroke-width="0.8"/><line x1="154.13" y1="529.98" x2="156.74" y2="529.98" stroke="#f4a234" stroke-width="0.8"/><line x1="154.13" y1="533.98" x2="156.74" y2="533.98" stroke="#f4a234" stroke-width="0.8"/><line x1="161.68" y1="538.66" x2="161.68" y2="543.86" stroke="#f4a234" stroke-width="0.8"/><line x1="160.38" y1="538.66" x2="162.98" y2="538.66" stroke="#f4a234" stroke-width="0.8"/><line x1="160.38" y1="543.86" x2="162.98" y2="543.86" stroke="#f4a234" stroke-width="0.8"/><line x1="167.92" y1="542.85" x2="167.92" y2="549.25" stroke="#f4a234" stroke-width="0.8"/><line x1="166.62" y1="542.85" x2="169.22" y2="542.85" stroke="#f4a234" stroke-width="0.8"/><line x1="166.62" y1="549.25" x2="169.22" y2="549.25" stroke="#f4a234" stroke-width="0.8"/><line x1="174.17" y1="545.67" x2="174.17" y2="552.47" stroke="#f4a234" stroke-width="0.8"/><line x1="172.87" y1="545.67" x2="175.47" y2="545.67" stroke="#f4a234" stroke-width="0.8"/><line x1="172.87" y1="552.47" x2="175.47" y2="552.47" stroke="#f4a234" stroke-width="0.8"/><line x1="180.41" y1="547.24" x2="180.41" y2="554.04" stroke="#f4a234" stroke-width="0.8"/><line x1="179.11" y1="547.24" x2="181.72" y2="547.24" stroke="#f4a234" stroke-width="0.8"/><line x1="179.11" y1="554.04" x2="181.72" y2="554.04" stroke="#f4a234" stroke-width="0.8"/><line x1="186.66" y1="551.65" x2="186.66" y2="560.45" stroke="#f4a234" stroke-width="0.8"/><line x1="185.36" y1="551.65" x2="187.96" y2="551.65" stroke="#f4a234" stroke-width="0.8"/><line x1="185.36" y1="560.45" x2="187.96" y2="560.45" stroke="#f4a234" stroke-width="0.8"/><line x1="192.91" y1="549.49" x2="192.91" y2="559.49" stroke="#f4a234" stroke-width="0.8"/><line x1="191.6" y1="549.49" x2="194.21" y2="549.49" stroke="#f4a234" stroke-width="0.8"/><line x1="191.6" y1="559.49" x2="194.21" y2="559.49" stroke="#f4a234" stroke-width="0.8"/><line x1="199.15" y1="546.72" x2="199.15" y2="563.92" stroke="#f4a234" stroke-width="0.8"/><line x1="197.85" y1="546.72" x2="200.45" y2="546.72" stroke="#f4a234" stroke-width="0.8"/><line x1="197.85" y1="563.92" x2="200.45" y2="563.92" stroke="#f4a234" stroke-width="0.8"/><path d="M136.70,517.50 C137.74,518.98 140.86,524.59 142.94,526.36 C145.03,528.13 147.11,527.19 149.19,528.13 C151.27,529.07 153.35,529.80 155.44,531.98 C157.52,534.17 159.60,538.91 161.68,541.26 C163.76,543.60 165.84,544.75 167.92,546.05 C170.01,547.35 172.09,548.31 174.17,549.07 C176.25,549.84 178.33,549.47 180.41,550.64 C182.50,551.80 184.58,555.41 186.66,556.05 C188.74,556.70 190.82,554.61 192.91,554.49 C194.99,554.37 198.11,555.19 199.15,555.32" fill="none" stroke="#f4a234" stroke-width="1.2" stroke-linejoin="round"/><circle cx="136.7" cy="517.5" r="0.9" fill="#e07e10" stroke="none" stroke-width="0"/><circle cx="142.94" cy="526.36" r="0.9" fill="#e07e10" stroke="none" stroke-width="0"/><circle cx="149.19" cy="528.13" r="0.9" fill="#e07e10" stroke="none" stroke-width="0"/><circle cx="155.44" cy="531.98" r="0.9" fill="#e07e10" stroke="none" stroke-width="0"/><circle cx="161.68" cy="541.26" r="0.9" fill="#e07e10" stroke="none" stroke-width="0"/><circle cx="167.92" cy="546.05" r="0.9" fill="#e07e10" stroke="none" stroke-width="0"/><circle cx="174.17" cy="549.07" r="0.9" fill="#e07e10" stroke="none" stroke-width="0"/><circle cx="180.41" cy="550.64" r="0.9" fill="#e07e10" stroke="none" stroke-width="0"/><circle cx="186.66" cy="556.05" r="0.9" fill="#e07e10" stroke="none" stroke-width="0"/><circle cx="192.91" cy="554.49" r="0.9" fill="#e07e10" stroke="none" stroke-width="0"/><circle cx="199.15" cy="555.32" r="0.9" fill="#e07e10" stroke="none" stroke-width="0"/><line x1="142.94" y1="522.37" x2="142.94" y2="525.97" stroke="#1f4f90" stroke-width="0.8"/><line x1="141.64" y1="522.37" x2="144.25" y2="522.37" stroke="#1f4f90" stroke-width="0.8"/><line x1="141.64" y1="525.97" x2="144.25" y2="525.97" stroke="#1f4f90" stroke-width="0.8"/><line x1="149.19" y1="523.62" x2="149.19" y2="527.22" stroke="#1f4f90" stroke-width="0.8"/><line x1="147.89" y1="523.62" x2="150.49" y2="523.62" stroke="#1f4f90" stroke-width="0.8"/><line x1="147.89" y1="527.22" x2="150.49" y2="527.22" stroke="#1f4f90" stroke-width="0.8"/><line x1="155.44" y1="532.28" x2="155.44" y2="536.28" stroke="#1f4f90" stroke-width="0.8"/><line x1="154.13" y1="532.28" x2="156.74" y2="532.28" stroke="#1f4f90" stroke-width="0.8"/><line x1="154.13" y1="536.28" x2="156.74" y2="536.28" stroke="#1f4f90" stroke-width="0.8"/><line x1="161.68" y1="541.98" x2="161.68" y2="546.78" stroke="#1f4f90" stroke-width="0.8"/><line x1="160.38" y1="541.98" x2="162.98" y2="541.98" stroke="#1f4f90" stroke-width="0.8"/><line x1="160.38" y1="546.78" x2="162.98" y2="546.78" stroke="#1f4f90" stroke-width="0.8"/><line x1="167.92" y1="549.2" x2="167.92" y2="555.2" stroke="#1f4f90" stroke-width="0.8"/><line x1="166.62" y1="549.2" x2="169.22" y2="549.2" stroke="#1f4f90" stroke-width="0.8"/><line x1="166.62" y1="555.2" x2="169.22" y2="555.2" stroke="#1f4f90" stroke-width="0.8"/><line x1="174.17" y1="551.09" x2="174.17" y2="557.89" stroke="#1f4f90" stroke-width="0.8"/><line x1="172.87" y1="551.09" x2="175.47" y2="551.09" stroke="#1f4f90" stroke-width="0.8"/><line x1="172.87" y1="557.89" x2="175.47" y2="557.89" stroke="#1f4f90" stroke-width="0.8"/><line x1="180.41" y1="554.1" x2="180.41" y2="560.1" stroke="#1f4f90" stroke-width="0.8"/><line x1="179.11" y1="554.1" x2="181.72" y2="554.1" stroke="#1f4f90" stroke-width="0.8"/><line x1="179.11" y1="560.1" x2="181.72" y2="560.1" stroke="#1f4f90" stroke-width="0.8"/><line x1="186.66" y1="548.76" x2="186.66" y2="553.97" stroke="#1f4f90" stroke-width="0.8"/><line x1="185.36" y1="548.76" x2="187.96" y2="548.76" stroke="#1f4f90" stroke-width="0.8"/><line x1="185.36" y1="553.97" x2="187.96" y2="553.97" stroke="#1f4f90" stroke-width="0.8"/><line x1="192.91" y1="551.16" x2="192.91" y2="556.36" stroke="#1f4f90" stroke-width="0.8"/><line x1="191.6" y1="551.16" x2="194.21" y2="551.16" stroke="#1f4f90" stroke-width="0.8"/><line x1="191.6" y1="556.36" x2="194.21" y2="556.36" stroke="#1f4f90" stroke-width="0.8"/><path d="M136.70,517.50 C137.74,518.61 140.86,522.85 142.94,524.17 C145.03,525.49 147.11,523.73 149.19,525.42 C151.27,527.10 153.35,531.12 155.44,534.28 C157.52,537.44 159.60,541.40 161.68,544.38 C163.76,547.37 165.84,550.51 167.92,552.20 C170.01,553.88 172.09,553.67 174.17,554.49 C176.25,555.31 178.33,557.62 180.41,557.10 C182.50,556.58 184.58,551.92 186.66,551.37 C188.74,550.81 191.86,553.36 192.91,553.76" fill="none" stroke="#1f4f90" stroke-width="1.2" stroke-linejoin="round"/><circle cx="136.7" cy="517.5" r="0.9" fill="#1f4a86" stroke="none" stroke-width="0"/><circle cx="142.94" cy="524.17" r="0.9" fill="#1f4a86" stroke="none" stroke-width="0"/><circle cx="149.19" cy="525.42" r="0.9" fill="#1f4a86" stroke="none" stroke-width="0"/><circle cx="155.44" cy="534.28" r="0.9" fill="#1f4a86" stroke="none" stroke-width="0"/><circle cx="161.68" cy="544.38" r="0.9" fill="#1f4a86" stroke="none" stroke-width="0"/><circle cx="167.92" cy="552.2" r="0.9" fill="#1f4a86" stroke="none" stroke-width="0"/><circle cx="174.17" cy="554.49" r="0.9" fill="#1f4a86" stroke="none" stroke-width="0"/><circle cx="180.41" cy="557.1" r="0.9" fill="#1f4a86" stroke="none" stroke-width="0"/><circle cx="186.66" cy="551.37" r="0.9" fill="#1f4a86" stroke="none" stroke-width="0"/><circle cx="192.91" cy="553.76" r="0.9" fill="#1f4a86" stroke="none" stroke-width="0"/><line x1="142.94" y1="524.58" x2="142.94" y2="529.38" stroke="#c41a48" stroke-width="0.8"/><line x1="141.64" y1="524.58" x2="144.25" y2="524.58" stroke="#c41a48" stroke-width="0.8"/><line x1="141.64" y1="529.38" x2="144.25" y2="529.38" stroke="#c41a48" stroke-width="0.8"/><line x1="149.19" y1="524.58" x2="149.19" y2="529.38" stroke="#c41a48" stroke-width="0.8"/><line x1="147.89" y1="524.58" x2="150.49" y2="524.58" stroke="#c41a48" stroke-width="0.8"/><line x1="147.89" y1="529.38" x2="150.49" y2="529.38" stroke="#c41a48" stroke-width="0.8"/><line x1="155.44" y1="524.46" x2="155.44" y2="533.26" stroke="#c41a48" stroke-width="0.8"/><line x1="154.13" y1="524.46" x2="156.74" y2="524.46" stroke="#c41a48" stroke-width="0.8"/><line x1="154.13" y1="533.26" x2="156.74" y2="533.26" stroke="#c41a48" stroke-width="0.8"/><line x1="161.68" y1="535.61" x2="161.68" y2="544.41" stroke="#c41a48" stroke-width="0.8"/><line x1="160.38" y1="535.61" x2="162.98" y2="535.61" stroke="#c41a48" stroke-width="0.8"/><line x1="160.38" y1="544.41" x2="162.98" y2="544.41" stroke="#c41a48" stroke-width="0.8"/><line x1="167.92" y1="538.75" x2="167.92" y2="548.35" stroke="#c41a48" stroke-width="0.8"/><line x1="166.62" y1="538.75" x2="169.22" y2="538.75" stroke="#c41a48" stroke-width="0.8"/><line x1="166.62" y1="548.35" x2="169.22" y2="548.35" stroke="#c41a48" stroke-width="0.8"/><line x1="174.17" y1="541.68" x2="174.17" y2="551.68" stroke="#c41a48" stroke-width="0.8"/><line x1="172.87" y1="541.68" x2="175.47" y2="541.68" stroke="#c41a48" stroke-width="0.8"/><line x1="172.87" y1="551.68" x2="175.47" y2="551.68" stroke="#c41a48" stroke-width="0.8"/><line x1="180.41" y1="544.19" x2="180.41" y2="554.59" stroke="#c41a48" stroke-width="0.8"/><line x1="179.11" y1="544.19" x2="181.72" y2="544.19" stroke="#c41a48" stroke-width="0.8"/><line x1="179.11" y1="554.59" x2="181.72" y2="554.59" stroke="#c41a48" stroke-width="0.8"/><line x1="186.66" y1="545.85" x2="186.66" y2="556.25" stroke="#c41a48" stroke-width="0.8"/><line x1="185.36" y1="545.85" x2="187.96" y2="545.85" stroke="#c41a48" stroke-width="0.8"/><line x1="185.36" y1="556.25" x2="187.96" y2="556.25" stroke="#c41a48" stroke-width="0.8"/><line x1="192.91" y1="547.2" x2="192.91" y2="557.2" stroke="#c41a48" stroke-width="0.8"/><line x1="191.6" y1="547.2" x2="194.21" y2="547.2" stroke="#c41a48" stroke-width="0.8"/><line x1="191.6" y1="557.2" x2="194.21" y2="557.2" stroke="#c41a48" stroke-width="0.8"/><line x1="199.15" y1="544.84" x2="199.15" y2="556.84" stroke="#c41a48" stroke-width="0.8"/><line x1="197.85" y1="544.84" x2="200.45" y2="544.84" stroke="#c41a48" stroke-width="0.8"/><line x1="197.85" y1="556.84" x2="200.45" y2="556.84" stroke="#c41a48" stroke-width="0.8"/><line x1="205.39" y1="544.89" x2="205.39" y2="558.89" stroke="#c41a48" stroke-width="0.8"/><line x1="204.09" y1="544.89" x2="206.69" y2="544.89" stroke="#c41a48" stroke-width="0.8"/><line x1="204.09" y1="558.89" x2="206.69" y2="558.89" stroke="#c41a48" stroke-width="0.8"/><path d="M136.70,517.50 C137.74,519.08 140.86,525.40 142.94,526.98 C145.03,528.56 147.11,526.67 149.19,526.98 C151.27,527.29 153.35,526.69 155.44,528.86 C157.52,531.03 159.60,537.56 161.68,540.01 C163.76,542.46 165.84,542.44 167.92,543.55 C170.01,544.66 172.09,545.70 174.17,546.68 C176.25,547.65 178.33,548.66 180.41,549.39 C182.50,550.11 184.58,550.58 186.66,551.05 C188.74,551.52 190.82,552.23 192.91,552.20 C194.99,552.16 197.07,550.90 199.15,550.84 C201.23,550.79 204.35,551.71 205.39,551.89" fill="none" stroke="#c41a48" stroke-width="1.2" stroke-linejoin="round"/><circle cx="136.7" cy="517.5" r="0.9" fill="#a8102e" stroke="none" stroke-width="0"/><circle cx="142.94" cy="526.98" r="0.9" fill="#a8102e" stroke="none" stroke-width="0"/><circle cx="149.19" cy="526.98" r="0.9" fill="#a8102e" stroke="none" stroke-width="0"/><circle cx="155.44" cy="528.86" r="0.9" fill="#a8102e" stroke="none" stroke-width="0"/><circle cx="161.68" cy="540.01" r="0.9" fill="#a8102e" stroke="none" stroke-width="0"/><circle cx="167.92" cy="543.55" r="0.9" fill="#a8102e" stroke="none" stroke-width="0"/><circle cx="174.17" cy="546.68" r="0.9" fill="#a8102e" stroke="none" stroke-width="0"/><circle cx="180.41" cy="549.39" r="0.9" fill="#a8102e" stroke="none" stroke-width="0"/><circle cx="186.66" cy="551.05" r="0.9" fill="#a8102e" stroke="none" stroke-width="0"/><circle cx="192.91" cy="552.2" r="0.9" fill="#a8102e" stroke="none" stroke-width="0"/><circle cx="199.15" cy="550.84" r="0.9" fill="#a8102e" stroke="none" stroke-width="0"/><circle cx="205.39" cy="551.89" r="0.9" fill="#a8102e" stroke="none" stroke-width="0"/><line x1="313.6" y1="473.3" x2="313.6" y2="570.6" stroke="#333" stroke-width="1.3"/><line x1="313.1" y1="570.1" x2="445.4" y2="570.1" stroke="#333" stroke-width="1.3"/><line x1="311.3" y1="566.2" x2="313.6" y2="566.2" stroke="#333" stroke-width="0.9"/><text x="307.6" y="568.7" font-size="8" fill="#333333" text-anchor="end">0</text><line x1="311.3" y1="548" x2="313.6" y2="548" stroke="#333" stroke-width="0.9"/><text x="307.6" y="550.5" font-size="8" fill="#333333" text-anchor="end">1</text><line x1="311.3" y1="529.8" x2="313.6" y2="529.8" stroke="#333" stroke-width="0.9"/><text x="307.6" y="532.3" font-size="8" fill="#333333" text-anchor="end">2</text><line x1="311.3" y1="511.6" x2="313.6" y2="511.6" stroke="#333" stroke-width="0.9"/><text x="307.6" y="514.1" font-size="8" fill="#333333" text-anchor="end">3</text><line x1="311.3" y1="493.4" x2="313.6" y2="493.4" stroke="#333" stroke-width="0.9"/><text x="307.6" y="495.9" font-size="8" fill="#333333" text-anchor="end">4</text><line x1="311.3" y1="475.2" x2="313.6" y2="475.2" stroke="#333" stroke-width="0.9"/><text x="307.6" y="477.7" font-size="8" fill="#333333" text-anchor="end">5</text><line x1="314.2" y1="570.1" x2="314.2" y2="572.6" stroke="#333" stroke-width="0.9"/><text x="314.2" y="582.38" font-size="8" fill="#333333" text-anchor="middle">0</text><line x1="339.98" y1="570.1" x2="339.98" y2="572.6" stroke="#333" stroke-width="0.9"/><text x="339.98" y="582.38" font-size="8" fill="#333333" text-anchor="middle">20</text><line x1="365.76" y1="570.1" x2="365.76" y2="572.6" stroke="#333" stroke-width="0.9"/><text x="365.76" y="582.38" font-size="8" fill="#333333" text-anchor="middle">40</text><line x1="391.54" y1="570.1" x2="391.54" y2="572.6" stroke="#333" stroke-width="0.9"/><text x="391.54" y="582.38" font-size="8" fill="#333333" text-anchor="middle">60</text><line x1="417.32" y1="570.1" x2="417.32" y2="572.6" stroke="#333" stroke-width="0.9"/><text x="417.32" y="582.38" font-size="8" fill="#333333" text-anchor="middle">80</text><line x1="443.1" y1="570.1" x2="443.1" y2="572.6" stroke="#333" stroke-width="0.9"/><text x="443.1" y="582.38" font-size="8" fill="#333333" text-anchor="middle">100</text><text x="297.6" y="521.2" font-size="9.3" fill="#333333" text-anchor="middle" textLength="39.3" lengthAdjust="spacingAndGlyphs" transform="rotate(-90 297.6 521.2)">GVHD score</text><text x="377.6" y="596.9" font-size="9.4" fill="#333333" text-anchor="middle" textLength="49.6" lengthAdjust="spacingAndGlyphs">Days post BMT</text><line x1="372.2" y1="554.79" x2="372.2" y2="565.59" stroke="#4aa047" stroke-width="0.8"/><line x1="370.9" y1="554.79" x2="373.5" y2="554.79" stroke="#4aa047" stroke-width="0.8"/><line x1="370.9" y1="565.59" x2="373.5" y2="565.59" stroke="#4aa047" stroke-width="0.8"/><line x1="378.65" y1="554.79" x2="378.65" y2="565.59" stroke="#4aa047" stroke-width="0.8"/><line x1="377.35" y1="554.79" x2="379.95" y2="554.79" stroke="#4aa047" stroke-width="0.8"/><line x1="377.35" y1="565.59" x2="379.95" y2="565.59" stroke="#4aa047" stroke-width="0.8"/><line x1="385.09" y1="554.79" x2="385.09" y2="565.59" stroke="#4aa047" stroke-width="0.8"/><line x1="383.79" y1="554.79" x2="386.39" y2="554.79" stroke="#4aa047" stroke-width="0.8"/><line x1="383.79" y1="565.59" x2="386.39" y2="565.59" stroke="#4aa047" stroke-width="0.8"/><line x1="391.54" y1="554.79" x2="391.54" y2="565.59" stroke="#4aa047" stroke-width="0.8"/><line x1="390.24" y1="554.79" x2="392.84" y2="554.79" stroke="#4aa047" stroke-width="0.8"/><line x1="390.24" y1="565.59" x2="392.84" y2="565.59" stroke="#4aa047" stroke-width="0.8"/><line x1="397.99" y1="554.79" x2="397.99" y2="565.59" stroke="#4aa047" stroke-width="0.8"/><line x1="396.69" y1="554.79" x2="399.29" y2="554.79" stroke="#4aa047" stroke-width="0.8"/><line x1="396.69" y1="565.59" x2="399.29" y2="565.59" stroke="#4aa047" stroke-width="0.8"/><polyline points="314.2,566.2 320.64,566.2 327.09,566.2 333.53,566.2 339.98,566.2 346.43,566.2 352.87,566.2 359.31,566.2 365.76,566.2 372.2,560.19 378.65,560.19 385.09,560.19 391.54,560.19 397.99,560.19 404.43,548 410.88,548 417.32,548 423.76,548 430.21,548" fill="none" stroke="#5fbb5c" stroke-width="1.2" stroke-linejoin="round"/><circle cx="314.2" cy="566.2" r="0.9" fill="#3f9a3c" stroke="none" stroke-width="0"/><circle cx="320.64" cy="566.2" r="0.9" fill="#3f9a3c" stroke="none" stroke-width="0"/><circle cx="327.09" cy="566.2" r="0.9" fill="#3f9a3c" stroke="none" stroke-width="0"/><circle cx="333.53" cy="566.2" r="0.9" fill="#3f9a3c" stroke="none" stroke-width="0"/><circle cx="339.98" cy="566.2" r="0.9" fill="#3f9a3c" stroke="none" stroke-width="0"/><circle cx="346.43" cy="566.2" r="0.9" fill="#3f9a3c" stroke="none" stroke-width="0"/><circle cx="352.87" cy="566.2" r="0.9" fill="#3f9a3c" stroke="none" stroke-width="0"/><circle cx="359.31" cy="566.2" r="0.9" fill="#3f9a3c" stroke="none" stroke-width="0"/><circle cx="365.76" cy="566.2" r="0.9" fill="#3f9a3c" stroke="none" stroke-width="0"/><circle cx="372.2" cy="560.19" r="0.9" fill="#3f9a3c" stroke="none" stroke-width="0"/><circle cx="378.65" cy="560.19" r="0.9" fill="#3f9a3c" stroke="none" stroke-width="0"/><circle cx="385.09" cy="560.19" r="0.9" fill="#3f9a3c" stroke="none" stroke-width="0"/><circle cx="391.54" cy="560.19" r="0.9" fill="#3f9a3c" stroke="none" stroke-width="0"/><circle cx="397.99" cy="560.19" r="0.9" fill="#3f9a3c" stroke="none" stroke-width="0"/><circle cx="404.43" cy="548" r="0.9" fill="#3f9a3c" stroke="none" stroke-width="0"/><circle cx="410.88" cy="548" r="0.9" fill="#3f9a3c" stroke="none" stroke-width="0"/><circle cx="417.32" cy="548" r="0.9" fill="#3f9a3c" stroke="none" stroke-width="0"/><circle cx="423.76" cy="548" r="0.9" fill="#3f9a3c" stroke="none" stroke-width="0"/><circle cx="430.21" cy="548" r="0.9" fill="#3f9a3c" stroke="none" stroke-width="0"/><line x1="327.09" y1="559.34" x2="327.09" y2="562.14" stroke="#74529a" stroke-width="0.8"/><line x1="325.79" y1="559.34" x2="328.39" y2="559.34" stroke="#74529a" stroke-width="0.8"/><line x1="325.79" y1="562.14" x2="328.39" y2="562.14" stroke="#74529a" stroke-width="0.8"/><line x1="333.53" y1="554.19" x2="333.53" y2="558.19" stroke="#74529a" stroke-width="0.8"/><line x1="332.23" y1="554.19" x2="334.83" y2="554.19" stroke="#74529a" stroke-width="0.8"/><line x1="332.23" y1="558.19" x2="334.83" y2="558.19" stroke="#74529a" stroke-width="0.8"/><line x1="339.98" y1="548.64" x2="339.98" y2="554.64" stroke="#74529a" stroke-width="0.8"/><line x1="338.68" y1="548.64" x2="341.28" y2="548.64" stroke="#74529a" stroke-width="0.8"/><line x1="338.68" y1="554.64" x2="341.28" y2="554.64" stroke="#74529a" stroke-width="0.8"/><line x1="346.43" y1="534.41" x2="346.43" y2="541.21" stroke="#74529a" stroke-width="0.8"/><line x1="345.12" y1="534.41" x2="347.73" y2="534.41" stroke="#74529a" stroke-width="0.8"/><line x1="345.12" y1="541.21" x2="347.73" y2="541.21" stroke="#74529a" stroke-width="0.8"/><line x1="352.87" y1="520.29" x2="352.87" y2="529.49" stroke="#74529a" stroke-width="0.8"/><line x1="351.57" y1="520.29" x2="354.17" y2="520.29" stroke="#74529a" stroke-width="0.8"/><line x1="351.57" y1="529.49" x2="354.17" y2="529.49" stroke="#74529a" stroke-width="0.8"/><line x1="359.31" y1="513.48" x2="359.31" y2="524.28" stroke="#74529a" stroke-width="0.8"/><line x1="358.01" y1="513.48" x2="360.62" y2="513.48" stroke="#74529a" stroke-width="0.8"/><line x1="358.01" y1="524.28" x2="360.62" y2="524.28" stroke="#74529a" stroke-width="0.8"/><line x1="365.76" y1="510.35" x2="365.76" y2="521.95" stroke="#74529a" stroke-width="0.8"/><line x1="364.46" y1="510.35" x2="367.06" y2="510.35" stroke="#74529a" stroke-width="0.8"/><line x1="364.46" y1="521.95" x2="367.06" y2="521.95" stroke="#74529a" stroke-width="0.8"/><line x1="372.2" y1="505.6" x2="372.2" y2="517.6" stroke="#74529a" stroke-width="0.8"/><line x1="370.9" y1="505.6" x2="373.5" y2="505.6" stroke="#74529a" stroke-width="0.8"/><line x1="370.9" y1="517.6" x2="373.5" y2="517.6" stroke="#74529a" stroke-width="0.8"/><line x1="378.65" y1="500.29" x2="378.65" y2="513.09" stroke="#74529a" stroke-width="0.8"/><line x1="377.35" y1="500.29" x2="379.95" y2="500.29" stroke="#74529a" stroke-width="0.8"/><line x1="377.35" y1="513.09" x2="379.95" y2="513.09" stroke="#74529a" stroke-width="0.8"/><line x1="385.09" y1="495.14" x2="385.09" y2="509.14" stroke="#74529a" stroke-width="0.8"/><line x1="383.79" y1="495.14" x2="386.39" y2="495.14" stroke="#74529a" stroke-width="0.8"/><line x1="383.79" y1="509.14" x2="386.39" y2="509.14" stroke="#74529a" stroke-width="0.8"/><line x1="391.54" y1="492.99" x2="391.54" y2="510.19" stroke="#74529a" stroke-width="0.8"/><line x1="390.24" y1="492.99" x2="392.84" y2="492.99" stroke="#74529a" stroke-width="0.8"/><line x1="390.24" y1="510.19" x2="392.84" y2="510.19" stroke="#74529a" stroke-width="0.8"/><line x1="397.99" y1="494.92" x2="397.99" y2="513.72" stroke="#74529a" stroke-width="0.8"/><line x1="396.69" y1="494.92" x2="399.29" y2="494.92" stroke="#74529a" stroke-width="0.8"/><line x1="396.69" y1="513.72" x2="399.29" y2="513.72" stroke="#74529a" stroke-width="0.8"/><line x1="404.43" y1="491.9" x2="404.43" y2="513.1" stroke="#74529a" stroke-width="0.8"/><line x1="403.13" y1="491.9" x2="405.73" y2="491.9" stroke="#74529a" stroke-width="0.8"/><line x1="403.13" y1="513.1" x2="405.73" y2="513.1" stroke="#74529a" stroke-width="0.8"/><line x1="410.88" y1="491.9" x2="410.88" y2="513.1" stroke="#74529a" stroke-width="0.8"/><line x1="409.57" y1="491.9" x2="412.18" y2="491.9" stroke="#74529a" stroke-width="0.8"/><line x1="409.57" y1="513.1" x2="412.18" y2="513.1" stroke="#74529a" stroke-width="0.8"/><line x1="417.32" y1="491.5" x2="417.32" y2="513.5" stroke="#74529a" stroke-width="0.8"/><line x1="416.02" y1="491.5" x2="418.62" y2="491.5" stroke="#74529a" stroke-width="0.8"/><line x1="416.02" y1="513.5" x2="418.62" y2="513.5" stroke="#74529a" stroke-width="0.8"/><line x1="423.76" y1="494.9" x2="423.76" y2="518.1" stroke="#74529a" stroke-width="0.8"/><line x1="422.46" y1="494.9" x2="425.06" y2="494.9" stroke="#74529a" stroke-width="0.8"/><line x1="422.46" y1="518.1" x2="425.06" y2="518.1" stroke="#74529a" stroke-width="0.8"/><line x1="430.21" y1="494.5" x2="430.21" y2="518.5" stroke="#74529a" stroke-width="0.8"/><line x1="428.91" y1="494.5" x2="431.51" y2="494.5" stroke="#74529a" stroke-width="0.8"/><line x1="428.91" y1="518.5" x2="431.51" y2="518.5" stroke="#74529a" stroke-width="0.8"/><path d="M314.20,566.20 C316.35,565.29 323.87,562.41 327.09,560.74 C330.31,559.07 331.39,557.71 333.53,556.19 C335.68,554.67 337.83,554.70 339.98,551.64 C342.13,548.58 344.28,542.27 346.43,537.81 C348.57,533.35 350.72,528.04 352.87,524.89 C355.02,521.73 357.17,520.34 359.31,518.88 C361.46,517.42 363.61,517.36 365.76,516.15 C367.91,514.94 370.06,513.18 372.20,511.60 C374.35,510.02 376.50,508.26 378.65,506.69 C380.80,505.11 382.95,502.99 385.09,502.14 C387.24,501.29 389.39,501.23 391.54,501.59 C393.69,501.95 395.84,504.17 397.99,504.32 C400.13,504.47 402.28,502.80 404.43,502.50 C406.58,502.20 408.73,502.50 410.88,502.50 C413.02,502.50 415.17,501.83 417.32,502.50 C419.47,503.17 421.62,505.84 423.76,506.50 C425.91,507.17 429.14,506.50 430.21,506.50" fill="none" stroke="#4b2a6a" stroke-width="1.1" stroke-linejoin="round" stroke-dasharray="2.6,1.8"/><circle cx="314.2" cy="566.2" r="0.9" fill="#4a2468" stroke="none" stroke-width="0"/><circle cx="327.09" cy="560.74" r="0.9" fill="#4a2468" stroke="none" stroke-width="0"/><circle cx="333.53" cy="556.19" r="0.9" fill="#4a2468" stroke="none" stroke-width="0"/><circle cx="339.98" cy="551.64" r="0.9" fill="#4a2468" stroke="none" stroke-width="0"/><circle cx="346.43" cy="537.81" r="0.9" fill="#4a2468" stroke="none" stroke-width="0"/><circle cx="352.87" cy="524.89" r="0.9" fill="#4a2468" stroke="none" stroke-width="0"/><circle cx="359.31" cy="518.88" r="0.9" fill="#4a2468" stroke="none" stroke-width="0"/><circle cx="365.76" cy="516.15" r="0.9" fill="#4a2468" stroke="none" stroke-width="0"/><circle cx="372.2" cy="511.6" r="0.9" fill="#4a2468" stroke="none" stroke-width="0"/><circle cx="378.65" cy="506.69" r="0.9" fill="#4a2468" stroke="none" stroke-width="0"/><circle cx="385.09" cy="502.14" r="0.9" fill="#4a2468" stroke="none" stroke-width="0"/><circle cx="391.54" cy="501.59" r="0.9" fill="#4a2468" stroke="none" stroke-width="0"/><circle cx="397.99" cy="504.32" r="0.9" fill="#4a2468" stroke="none" stroke-width="0"/><circle cx="404.43" cy="502.5" r="0.9" fill="#4a2468" stroke="none" stroke-width="0"/><circle cx="410.88" cy="502.5" r="0.9" fill="#4a2468" stroke="none" stroke-width="0"/><circle cx="417.32" cy="502.5" r="0.9" fill="#4a2468" stroke="none" stroke-width="0"/><circle cx="423.76" cy="506.5" r="0.9" fill="#4a2468" stroke="none" stroke-width="0"/><circle cx="430.21" cy="506.5" r="0.9" fill="#4a2468" stroke="none" stroke-width="0"/><line x1="327.09" y1="559.14" x2="327.09" y2="562.34" stroke="#f4a234" stroke-width="0.8"/><line x1="325.79" y1="559.14" x2="328.39" y2="559.14" stroke="#f4a234" stroke-width="0.8"/><line x1="325.79" y1="562.34" x2="328.39" y2="562.34" stroke="#f4a234" stroke-width="0.8"/><line x1="333.53" y1="551.06" x2="333.53" y2="555.86" stroke="#f4a234" stroke-width="0.8"/><line x1="332.23" y1="551.06" x2="334.83" y2="551.06" stroke="#f4a234" stroke-width="0.8"/><line x1="332.23" y1="555.86" x2="334.83" y2="555.86" stroke="#f4a234" stroke-width="0.8"/><line x1="339.98" y1="542.27" x2="339.98" y2="548.27" stroke="#f4a234" stroke-width="0.8"/><line x1="338.68" y1="542.27" x2="341.28" y2="542.27" stroke="#f4a234" stroke-width="0.8"/><line x1="338.68" y1="548.27" x2="341.28" y2="548.27" stroke="#f4a234" stroke-width="0.8"/><line x1="346.43" y1="518.12" x2="346.43" y2="526.92" stroke="#f4a234" stroke-width="0.8"/><line x1="345.12" y1="518.12" x2="347.73" y2="518.12" stroke="#f4a234" stroke-width="0.8"/><line x1="345.12" y1="526.92" x2="347.73" y2="526.92" stroke="#f4a234" stroke-width="0.8"/><line x1="352.87" y1="504.38" x2="352.87" y2="515.18" stroke="#f4a234" stroke-width="0.8"/><line x1="351.57" y1="504.38" x2="354.17" y2="504.38" stroke="#f4a234" stroke-width="0.8"/><line x1="351.57" y1="515.18" x2="354.17" y2="515.18" stroke="#f4a234" stroke-width="0.8"/><line x1="359.31" y1="497.81" x2="359.31" y2="509.01" stroke="#f4a234" stroke-width="0.8"/><line x1="358.01" y1="497.81" x2="360.62" y2="497.81" stroke="#f4a234" stroke-width="0.8"/><line x1="358.01" y1="509.01" x2="360.62" y2="509.01" stroke="#f4a234" stroke-width="0.8"/><line x1="365.76" y1="492.55" x2="365.76" y2="503.35" stroke="#f4a234" stroke-width="0.8"/><line x1="364.46" y1="492.55" x2="367.06" y2="492.55" stroke="#f4a234" stroke-width="0.8"/><line x1="364.46" y1="503.35" x2="367.06" y2="503.35" stroke="#f4a234" stroke-width="0.8"/><line x1="372.2" y1="489.71" x2="372.2" y2="498.91" stroke="#f4a234" stroke-width="0.8"/><line x1="370.9" y1="489.71" x2="373.5" y2="489.71" stroke="#f4a234" stroke-width="0.8"/><line x1="370.9" y1="498.91" x2="373.5" y2="498.91" stroke="#f4a234" stroke-width="0.8"/><line x1="378.65" y1="480.9" x2="378.65" y2="487.7" stroke="#f4a234" stroke-width="0.8"/><line x1="377.35" y1="480.9" x2="379.95" y2="480.9" stroke="#f4a234" stroke-width="0.8"/><line x1="377.35" y1="487.7" x2="379.95" y2="487.7" stroke="#f4a234" stroke-width="0.8"/><line x1="385.09" y1="475.62" x2="385.09" y2="478.42" stroke="#f4a234" stroke-width="0.8"/><line x1="383.79" y1="475.62" x2="386.39" y2="475.62" stroke="#f4a234" stroke-width="0.8"/><line x1="383.79" y1="478.42" x2="386.39" y2="478.42" stroke="#f4a234" stroke-width="0.8"/><path d="M314.20,566.20 C316.35,565.29 323.87,562.86 327.09,560.74 C330.31,558.62 331.39,556.04 333.53,553.46 C335.68,550.88 337.83,550.43 339.98,545.27 C342.13,540.11 344.28,528.44 346.43,522.52 C348.57,516.61 350.72,512.97 352.87,509.78 C355.02,506.60 357.17,505.38 359.31,503.41 C361.46,501.44 363.61,499.47 365.76,497.95 C367.91,496.43 370.06,496.59 372.20,494.31 C374.35,492.04 376.50,487.18 378.65,484.30 C380.80,481.42 382.95,478.54 385.09,477.02 C387.24,475.50 390.47,475.50 391.54,475.20" fill="none" stroke="#f4a234" stroke-width="1.2" stroke-linejoin="round"/><circle cx="314.2" cy="566.2" r="0.9" fill="#e07e10" stroke="none" stroke-width="0"/><circle cx="327.09" cy="560.74" r="0.9" fill="#e07e10" stroke="none" stroke-width="0"/><circle cx="333.53" cy="553.46" r="0.9" fill="#e07e10" stroke="none" stroke-width="0"/><circle cx="339.98" cy="545.27" r="0.9" fill="#e07e10" stroke="none" stroke-width="0"/><circle cx="346.43" cy="522.52" r="0.9" fill="#e07e10" stroke="none" stroke-width="0"/><circle cx="352.87" cy="509.78" r="0.9" fill="#e07e10" stroke="none" stroke-width="0"/><circle cx="359.31" cy="503.41" r="0.9" fill="#e07e10" stroke="none" stroke-width="0"/><circle cx="365.76" cy="497.95" r="0.9" fill="#e07e10" stroke="none" stroke-width="0"/><circle cx="372.2" cy="494.31" r="0.9" fill="#e07e10" stroke="none" stroke-width="0"/><circle cx="378.65" cy="484.3" r="0.9" fill="#e07e10" stroke="none" stroke-width="0"/><circle cx="385.09" cy="477.02" r="0.9" fill="#e07e10" stroke="none" stroke-width="0"/><circle cx="391.54" cy="475.2" r="0.9" fill="#e07e10" stroke="none" stroke-width="0"/><line x1="327.09" y1="563.18" x2="327.09" y2="565.58" stroke="#c41a48" stroke-width="0.8"/><line x1="325.79" y1="563.18" x2="328.39" y2="563.18" stroke="#c41a48" stroke-width="0.8"/><line x1="325.79" y1="565.58" x2="328.39" y2="565.58" stroke="#c41a48" stroke-width="0.8"/><line x1="333.53" y1="562.98" x2="333.53" y2="565.78" stroke="#c41a48" stroke-width="0.8"/><line x1="332.23" y1="562.98" x2="334.83" y2="562.98" stroke="#c41a48" stroke-width="0.8"/><line x1="332.23" y1="565.78" x2="334.83" y2="565.78" stroke="#c41a48" stroke-width="0.8"/><line x1="339.98" y1="545.4" x2="339.98" y2="550.6" stroke="#c41a48" stroke-width="0.8"/><line x1="338.68" y1="545.4" x2="341.28" y2="545.4" stroke="#c41a48" stroke-width="0.8"/><line x1="338.68" y1="550.6" x2="341.28" y2="550.6" stroke="#c41a48" stroke-width="0.8"/><line x1="346.43" y1="537.32" x2="346.43" y2="544.12" stroke="#c41a48" stroke-width="0.8"/><line x1="345.12" y1="537.32" x2="347.73" y2="537.32" stroke="#c41a48" stroke-width="0.8"/><line x1="345.12" y1="544.12" x2="347.73" y2="544.12" stroke="#c41a48" stroke-width="0.8"/><line x1="352.87" y1="527.62" x2="352.87" y2="535.62" stroke="#c41a48" stroke-width="0.8"/><line x1="351.57" y1="527.62" x2="354.17" y2="527.62" stroke="#c41a48" stroke-width="0.8"/><line x1="351.57" y1="535.62" x2="354.17" y2="535.62" stroke="#c41a48" stroke-width="0.8"/><line x1="359.31" y1="517.52" x2="359.31" y2="527.52" stroke="#c41a48" stroke-width="0.8"/><line x1="358.01" y1="517.52" x2="360.62" y2="517.52" stroke="#c41a48" stroke-width="0.8"/><line x1="358.01" y1="527.52" x2="360.62" y2="527.52" stroke="#c41a48" stroke-width="0.8"/><line x1="365.76" y1="512.06" x2="365.76" y2="522.06" stroke="#c41a48" stroke-width="0.8"/><line x1="364.46" y1="512.06" x2="367.06" y2="512.06" stroke="#c41a48" stroke-width="0.8"/><line x1="364.46" y1="522.06" x2="367.06" y2="522.06" stroke="#c41a48" stroke-width="0.8"/><line x1="372.2" y1="502.96" x2="372.2" y2="512.96" stroke="#c41a48" stroke-width="0.8"/><line x1="370.9" y1="502.96" x2="373.5" y2="502.96" stroke="#c41a48" stroke-width="0.8"/><line x1="370.9" y1="512.96" x2="373.5" y2="512.96" stroke="#c41a48" stroke-width="0.8"/><line x1="378.65" y1="494.77" x2="378.65" y2="504.77" stroke="#c41a48" stroke-width="0.8"/><line x1="377.35" y1="494.77" x2="379.95" y2="494.77" stroke="#c41a48" stroke-width="0.8"/><line x1="377.35" y1="504.77" x2="379.95" y2="504.77" stroke="#c41a48" stroke-width="0.8"/><line x1="385.09" y1="482.63" x2="385.09" y2="491.43" stroke="#c41a48" stroke-width="0.8"/><line x1="383.79" y1="482.63" x2="386.39" y2="482.63" stroke="#c41a48" stroke-width="0.8"/><line x1="383.79" y1="491.43" x2="386.39" y2="491.43" stroke="#c41a48" stroke-width="0.8"/><path d="M314.20,566.20 C316.35,565.90 323.87,564.68 327.09,564.38 C330.31,564.08 331.39,567.11 333.53,564.38 C335.68,561.65 337.83,551.94 339.98,548.00 C342.13,544.06 344.28,543.45 346.43,540.72 C348.57,537.99 350.72,534.65 352.87,531.62 C355.02,528.59 357.17,524.95 359.31,522.52 C361.46,520.09 363.61,519.49 365.76,517.06 C367.91,514.63 370.06,510.84 372.20,507.96 C374.35,505.08 376.50,503.26 378.65,499.77 C380.80,496.28 382.95,491.13 385.09,487.03 C387.24,482.94 390.47,477.17 391.54,475.20" fill="none" stroke="#c41a48" stroke-width="1.2" stroke-linejoin="round"/><circle cx="314.2" cy="566.2" r="0.9" fill="#a8102e" stroke="none" stroke-width="0"/><circle cx="327.09" cy="564.38" r="0.9" fill="#a8102e" stroke="none" stroke-width="0"/><circle cx="333.53" cy="564.38" r="0.9" fill="#a8102e" stroke="none" stroke-width="0"/><circle cx="339.98" cy="548" r="0.9" fill="#a8102e" stroke="none" stroke-width="0"/><circle cx="346.43" cy="540.72" r="0.9" fill="#a8102e" stroke="none" stroke-width="0"/><circle cx="352.87" cy="531.62" r="0.9" fill="#a8102e" stroke="none" stroke-width="0"/><circle cx="359.31" cy="522.52" r="0.9" fill="#a8102e" stroke="none" stroke-width="0"/><circle cx="365.76" cy="517.06" r="0.9" fill="#a8102e" stroke="none" stroke-width="0"/><circle cx="372.2" cy="507.96" r="0.9" fill="#a8102e" stroke="none" stroke-width="0"/><circle cx="378.65" cy="499.77" r="0.9" fill="#a8102e" stroke="none" stroke-width="0"/><circle cx="385.09" cy="487.03" r="0.9" fill="#a8102e" stroke="none" stroke-width="0"/><circle cx="391.54" cy="475.2" r="0.9" fill="#a8102e" stroke="none" stroke-width="0"/><line x1="324.51" y1="555.7" x2="324.51" y2="558.5" stroke="#1f4f90" stroke-width="0.8"/><line x1="323.21" y1="555.7" x2="325.81" y2="555.7" stroke="#1f4f90" stroke-width="0.8"/><line x1="323.21" y1="558.5" x2="325.81" y2="558.5" stroke="#1f4f90" stroke-width="0.8"/><line x1="327.09" y1="555.7" x2="327.09" y2="558.5" stroke="#1f4f90" stroke-width="0.8"/><line x1="325.79" y1="555.7" x2="328.39" y2="555.7" stroke="#1f4f90" stroke-width="0.8"/><line x1="325.79" y1="558.5" x2="328.39" y2="558.5" stroke="#1f4f90" stroke-width="0.8"/><line x1="333.53" y1="528.02" x2="333.53" y2="535.22" stroke="#1f4f90" stroke-width="0.8"/><line x1="332.23" y1="528.02" x2="334.83" y2="528.02" stroke="#1f4f90" stroke-width="0.8"/><line x1="332.23" y1="535.22" x2="334.83" y2="535.22" stroke="#1f4f90" stroke-width="0.8"/><line x1="339.98" y1="508.82" x2="339.98" y2="518.02" stroke="#1f4f90" stroke-width="0.8"/><line x1="338.68" y1="508.82" x2="341.28" y2="508.82" stroke="#1f4f90" stroke-width="0.8"/><line x1="338.68" y1="518.02" x2="341.28" y2="518.02" stroke="#1f4f90" stroke-width="0.8"/><line x1="346.43" y1="491.31" x2="346.43" y2="497.31" stroke="#1f4f90" stroke-width="0.8"/><line x1="345.12" y1="491.31" x2="347.73" y2="491.31" stroke="#1f4f90" stroke-width="0.8"/><line x1="345.12" y1="497.31" x2="347.73" y2="497.31" stroke="#1f4f90" stroke-width="0.8"/><line x1="352.87" y1="481.99" x2="352.87" y2="484.79" stroke="#1f4f90" stroke-width="0.8"/><line x1="351.57" y1="481.99" x2="354.17" y2="481.99" stroke="#1f4f90" stroke-width="0.8"/><line x1="351.57" y1="484.79" x2="354.17" y2="484.79" stroke="#1f4f90" stroke-width="0.8"/><line x1="359.31" y1="476.77" x2="359.31" y2="478.37" stroke="#1f4f90" stroke-width="0.8"/><line x1="358.01" y1="476.77" x2="360.62" y2="476.77" stroke="#1f4f90" stroke-width="0.8"/><line x1="358.01" y1="478.37" x2="360.62" y2="478.37" stroke="#1f4f90" stroke-width="0.8"/><line x1="365.76" y1="476.77" x2="365.76" y2="478.37" stroke="#1f4f90" stroke-width="0.8"/><line x1="364.46" y1="476.77" x2="367.06" y2="476.77" stroke="#1f4f90" stroke-width="0.8"/><line x1="364.46" y1="478.37" x2="367.06" y2="478.37" stroke="#1f4f90" stroke-width="0.8"/><line x1="372.2" y1="476.77" x2="372.2" y2="478.37" stroke="#1f4f90" stroke-width="0.8"/><line x1="370.9" y1="476.77" x2="373.5" y2="476.77" stroke="#1f4f90" stroke-width="0.8"/><line x1="370.9" y1="478.37" x2="373.5" y2="478.37" stroke="#1f4f90" stroke-width="0.8"/><path d="M314.20,566.20 C315.92,564.68 322.36,558.62 324.51,557.10 C326.66,555.58 325.59,561.35 327.09,557.10 C328.59,552.85 331.39,538.90 333.53,531.62 C335.68,524.34 337.83,519.64 339.98,513.42 C342.13,507.20 344.28,499.32 346.43,494.31 C348.57,489.31 350.72,486.18 352.87,483.39 C355.02,480.60 357.17,478.54 359.31,477.57 C361.46,476.60 363.61,477.57 365.76,477.57 C367.91,477.57 370.06,477.96 372.20,477.57 C374.35,477.17 376.50,475.59 378.65,475.20 C380.80,474.81 382.95,475.20 385.09,475.20 C387.24,475.20 389.39,475.20 391.54,475.20 C393.69,475.20 395.84,475.20 397.99,475.20 C400.13,475.20 402.28,475.20 404.43,475.20 C406.58,475.20 408.73,475.20 410.88,475.20 C413.02,475.20 415.17,475.20 417.32,475.20 C419.47,475.20 421.62,475.20 423.76,475.20 C425.91,475.20 429.14,475.20 430.21,475.20" fill="none" stroke="#1f4f90" stroke-width="1.2" stroke-linejoin="round"/><circle cx="314.2" cy="566.2" r="0.9" fill="#1f4a86" stroke="none" stroke-width="0"/><circle cx="324.51" cy="557.1" r="0.9" fill="#1f4a86" stroke="none" stroke-width="0"/><circle cx="327.09" cy="557.1" r="0.9" fill="#1f4a86" stroke="none" stroke-width="0"/><circle cx="333.53" cy="531.62" r="0.9" fill="#1f4a86" stroke="none" stroke-width="0"/><circle cx="339.98" cy="513.42" r="0.9" fill="#1f4a86" stroke="none" stroke-width="0"/><circle cx="346.43" cy="494.31" r="0.9" fill="#1f4a86" stroke="none" stroke-width="0"/><circle cx="352.87" cy="483.39" r="0.9" fill="#1f4a86" stroke="none" stroke-width="0"/><circle cx="359.31" cy="477.57" r="0.9" fill="#1f4a86" stroke="none" stroke-width="0"/><circle cx="365.76" cy="477.57" r="0.9" fill="#1f4a86" stroke="none" stroke-width="0"/><circle cx="372.2" cy="477.57" r="0.9" fill="#1f4a86" stroke="none" stroke-width="0"/><circle cx="378.65" cy="475.2" r="0.9" fill="#1f4a86" stroke="none" stroke-width="0"/><circle cx="385.09" cy="475.2" r="0.9" fill="#1f4a86" stroke="none" stroke-width="0"/><circle cx="391.54" cy="475.2" r="0.9" fill="#1f4a86" stroke="none" stroke-width="0"/><circle cx="397.99" cy="475.2" r="0.9" fill="#1f4a86" stroke="none" stroke-width="0"/><circle cx="404.43" cy="475.2" r="0.9" fill="#1f4a86" stroke="none" stroke-width="0"/><circle cx="410.88" cy="475.2" r="0.9" fill="#1f4a86" stroke="none" stroke-width="0"/><circle cx="417.32" cy="475.2" r="0.9" fill="#1f4a86" stroke="none" stroke-width="0"/><circle cx="423.76" cy="475.2" r="0.9" fill="#1f4a86" stroke="none" stroke-width="0"/><circle cx="430.21" cy="475.2" r="0.9" fill="#1f4a86" stroke="none" stroke-width="0"/>

</svg></body></html>
